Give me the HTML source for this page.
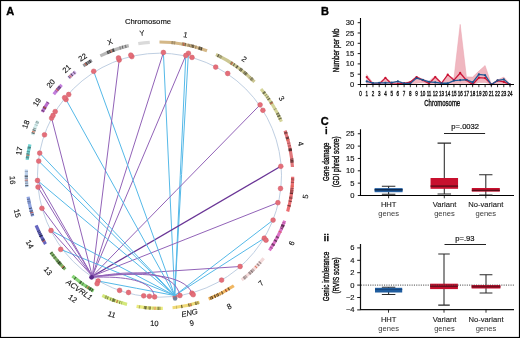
<!DOCTYPE html>
<html><head><meta charset="utf-8"><style>
html,body{margin:0;padding:0;background:#fff;}
svg{display:block;font-family:"Liberation Sans",sans-serif;}
.wrap{will-change:transform;width:520px;height:338px;overflow:hidden;}
.cl{font-size:7.6px;fill:#111;stroke:#111;stroke-width:0.12px;text-anchor:middle;dominant-baseline:central;}
.gl{font-size:7.7px;fill:#111;stroke:#111;stroke-width:0.12px;font-style:italic;text-anchor:middle;dominant-baseline:central;}
.tk{font-size:7.6px;fill:#111;stroke:#111;stroke-width:0.15px;}
.tkc{font-size:6.9px;fill:#111;stroke:#111;stroke-width:0.35px;}
.axc{font-size:9.4px;fill:#111;stroke:#111;stroke-width:0.4px;}
.axc2{font-size:9px;fill:#111;stroke:#111;stroke-width:0.4px;}
.tk2{font-size:7.6px;fill:#111;}
.ax{font-size:8px;fill:#111;}
.pv{font-size:7.6px;fill:#111;stroke:#111;stroke-width:0.2px;}
.gn{font-size:7.6px;fill:#2a2a2a;}
.gn1{fill:#1a1a1a;stroke:#1a1a1a;stroke-width:0.12px;}
.gn2{fill:#3a3a3a;}
.pl{font-size:11px;font-weight:bold;fill:#000;stroke:#000;stroke-width:0.35px;}
</style></head><body>
<div class="wrap"><svg width="520" height="338" viewBox="0 0 520 338">
<rect x="0" y="0" width="520" height="338" fill="#fff"/>
<path d="M159.50,40.40A134.8,134.8 0 0 1 207.59,49.27L206.45,52.26A131.6,131.6 0 0 0 159.50,43.60Z" fill="rgb(212, 184, 136)"/>
<path d="M171.70,40.95A134.8,134.8 0 0 1 172.73,41.05L172.41,44.24A131.6,131.6 0 0 0 171.41,44.14Z" fill="rgb(127, 110, 81)" opacity="0.8"/>
<path d="M201.69,47.17A134.8,134.8 0 0 1 202.62,47.48L201.60,50.51A131.6,131.6 0 0 0 200.69,50.21Z" fill="rgb(63, 55, 40)" opacity="0.8"/>
<path d="M187.98,43.44A134.8,134.8 0 0 1 189.28,43.73L188.58,46.85A131.6,131.6 0 0 0 187.30,46.57Z" fill="rgb(148, 128, 95)" opacity="0.8"/>
<path d="M172.79,41.06A134.8,134.8 0 0 1 173.56,41.14L173.23,44.32A131.6,131.6 0 0 0 172.47,44.24Z" fill="rgb(148, 128, 95)" opacity="0.8"/>
<path d="M185.26,42.88A134.8,134.8 0 0 1 186.28,43.09L185.64,46.22A131.6,131.6 0 0 0 184.65,46.03Z" fill="rgb(148, 128, 95)" opacity="0.8"/>
<path d="M189.76,43.84A134.8,134.8 0 0 1 190.45,44.00L189.72,47.12A131.6,131.6 0 0 0 189.04,46.96Z" fill="rgb(95, 82, 61)" opacity="0.8"/>
<path d="M199.61,46.51A134.8,134.8 0 0 1 200.58,46.81L199.61,49.86A131.6,131.6 0 0 0 198.66,49.56Z" fill="rgb(63, 55, 40)" opacity="0.8"/>
<path d="M191.22,44.19A134.8,134.8 0 0 1 191.84,44.34L191.07,47.44A131.6,131.6 0 0 0 190.47,47.30Z" fill="rgb(63, 55, 40)" opacity="0.8"/>
<path d="M174.76,41.27A134.8,134.8 0 0 1 175.37,41.34L174.99,44.51A131.6,131.6 0 0 0 174.39,44.45Z" fill="rgb(127, 110, 81)" opacity="0.8"/>
<path d="M182.15,42.32A134.8,134.8 0 0 1 183.32,42.52L182.75,45.67A131.6,131.6 0 0 0 181.62,45.47Z" fill="rgb(148, 128, 95)" opacity="0.8"/>
<path d="M192.75,44.57A134.8,134.8 0 0 1 194.06,44.90L193.24,48.00A131.6,131.6 0 0 0 191.96,47.67Z" fill="rgb(148, 128, 95)" opacity="0.8"/>
<path d="M193.50,44.76A134.8,134.8 0 0 1 194.53,45.03L193.70,48.12A131.6,131.6 0 0 0 192.70,47.86Z" fill="rgb(95, 82, 61)" opacity="0.8"/>
<path d="M200.24,46.70A134.8,134.8 0 0 1 200.88,46.91L199.90,49.95A131.6,131.6 0 0 0 199.28,49.76Z" fill="rgb(95, 82, 61)" opacity="0.8"/>
<path d="M183.33,42.52A134.8,134.8 0 0 1 184.12,42.67L183.53,45.81A131.6,131.6 0 0 0 182.76,45.67Z" fill="rgb(148, 128, 95)" opacity="0.8"/>
<path d="M195.61,45.33A134.8,134.8 0 0 1 196.86,45.68L195.97,48.75A131.6,131.6 0 0 0 194.76,48.41Z" fill="rgb(148, 128, 95)" opacity="0.8"/>
<path d="M183.83,42.61A134.8,134.8 0 0 1 184.72,42.78L184.12,45.92A131.6,131.6 0 0 0 183.25,45.76Z" fill="rgb(127, 110, 81)" opacity="0.8"/>
<path d="M185.01,42.84A134.8,134.8 0 0 1 185.92,43.01L185.29,46.15A131.6,131.6 0 0 0 184.41,45.98Z" fill="rgb(95, 82, 61)" opacity="0.8"/>
<path d="M201.11,46.98A134.8,134.8 0 0 1 202.20,47.34L201.18,50.38A131.6,131.6 0 0 0 200.12,50.03Z" fill="rgb(63, 55, 40)" opacity="0.8"/>
<path d="M198.92,46.29A134.8,134.8 0 0 1 200.26,46.71L199.29,49.76A131.6,131.6 0 0 0 197.99,49.35Z" fill="rgb(95, 82, 61)" opacity="0.8"/>
<path d="M192.31,44.45A134.8,134.8 0 0 1 193.14,44.66L192.34,47.76A131.6,131.6 0 0 0 191.53,47.56Z" fill="rgb(63, 55, 40)" opacity="0.8"/>
<path d="M193.02,44.63A134.8,134.8 0 0 1 193.76,44.83L192.95,47.92A131.6,131.6 0 0 0 192.23,47.73Z" fill="rgb(127, 110, 81)" opacity="0.8"/>
<path d="M174.01,41.18A134.8,134.8 0 0 1 174.65,41.25L174.29,44.43A131.6,131.6 0 0 0 173.66,44.36Z" fill="rgb(148, 128, 95)" opacity="0.8"/>
<path d="M183.56,42.56A134.8,134.8 0 0 1 184.48,42.74L183.89,45.88A131.6,131.6 0 0 0 182.99,45.71Z" fill="rgb(220,90,60)" opacity="0.8"/>
<path d="M216.65,53.11A134.8,134.8 0 0 1 255.61,80.68L253.33,82.92A131.6,131.6 0 0 0 215.29,56.01Z" fill="rgb(204, 199, 147)"/>
<path d="M221.32,55.41A134.8,134.8 0 0 1 222.42,55.99L220.93,58.82A131.6,131.6 0 0 0 219.85,58.25Z" fill="rgb(142, 139, 102)" opacity="0.8"/>
<path d="M250.75,75.98A134.8,134.8 0 0 1 251.19,76.39L249.01,78.73A131.6,131.6 0 0 0 248.58,78.33Z" fill="rgb(142, 139, 102)" opacity="0.8"/>
<path d="M246.23,72.01A134.8,134.8 0 0 1 247.23,72.85L245.14,75.28A131.6,131.6 0 0 0 244.17,74.46Z" fill="rgb(61, 59, 44)" opacity="0.8"/>
<path d="M240.61,67.53A134.8,134.8 0 0 1 241.58,68.27L239.63,70.81A131.6,131.6 0 0 0 238.68,70.09Z" fill="rgb(142, 139, 102)" opacity="0.8"/>
<path d="M244.69,70.73A134.8,134.8 0 0 1 245.36,71.28L243.32,73.74A131.6,131.6 0 0 0 242.67,73.21Z" fill="rgb(122, 119, 88)" opacity="0.8"/>
<path d="M236.98,64.89A134.8,134.8 0 0 1 238.13,65.71L236.26,68.31A131.6,131.6 0 0 0 235.14,67.51Z" fill="rgb(122, 119, 88)" opacity="0.8"/>
<path d="M218.36,53.93A134.8,134.8 0 0 1 218.97,54.23L217.56,57.10A131.6,131.6 0 0 0 216.97,56.81Z" fill="rgb(61, 59, 44)" opacity="0.8"/>
<path d="M252.13,77.27A134.8,134.8 0 0 1 253.14,78.23L250.91,80.53A131.6,131.6 0 0 0 249.93,79.59Z" fill="rgb(122, 119, 88)" opacity="0.8"/>
<path d="M241.00,67.83A134.8,134.8 0 0 1 241.57,68.26L239.62,70.80A131.6,131.6 0 0 0 239.07,70.38Z" fill="rgb(61, 59, 44)" opacity="0.8"/>
<path d="M253.31,78.40A134.8,134.8 0 0 1 253.93,79.00L251.69,81.29A131.6,131.6 0 0 0 251.08,80.69Z" fill="rgb(122, 119, 88)" opacity="0.8"/>
<path d="M252.47,77.59A134.8,134.8 0 0 1 253.42,78.51L251.19,80.80A131.6,131.6 0 0 0 250.26,79.90Z" fill="rgb(142, 139, 102)" opacity="0.8"/>
<path d="M232.31,61.75A134.8,134.8 0 0 1 233.40,62.46L231.65,65.14A131.6,131.6 0 0 0 230.58,64.45Z" fill="rgb(142, 139, 102)" opacity="0.8"/>
<path d="M242.03,68.62A134.8,134.8 0 0 1 242.88,69.28L240.90,71.79A131.6,131.6 0 0 0 240.07,71.15Z" fill="rgb(61, 59, 44)" opacity="0.8"/>
<path d="M241.08,67.89A134.8,134.8 0 0 1 242.16,68.72L240.20,71.25A131.6,131.6 0 0 0 239.15,70.44Z" fill="rgb(122, 119, 88)" opacity="0.8"/>
<path d="M234.37,63.10A134.8,134.8 0 0 1 235.35,63.76L233.55,66.41A131.6,131.6 0 0 0 232.59,65.76Z" fill="rgb(91, 89, 66)" opacity="0.8"/>
<path d="M251.89,77.04A134.8,134.8 0 0 1 252.58,77.70L250.37,80.01A131.6,131.6 0 0 0 249.70,79.37Z" fill="rgb(122, 119, 88)" opacity="0.8"/>
<path d="M237.69,65.40A134.8,134.8 0 0 1 238.54,66.00L236.66,68.60A131.6,131.6 0 0 0 235.84,68.00Z" fill="rgb(61, 59, 44)" opacity="0.8"/>
<path d="M246.85,72.53A134.8,134.8 0 0 1 247.92,73.45L245.82,75.86A131.6,131.6 0 0 0 244.78,74.97Z" fill="rgb(122, 119, 88)" opacity="0.8"/>
<path d="M218.68,54.09A134.8,134.8 0 0 1 219.67,54.57L218.24,57.44A131.6,131.6 0 0 0 217.28,56.96Z" fill="rgb(91, 89, 66)" opacity="0.8"/>
<path d="M220.26,54.87A134.8,134.8 0 0 1 221.25,55.37L219.78,58.22A131.6,131.6 0 0 0 218.82,57.73Z" fill="rgb(142, 139, 102)" opacity="0.8"/>
<path d="M231.40,61.18A134.8,134.8 0 0 1 232.54,61.90L230.80,64.59A131.6,131.6 0 0 0 229.70,63.88Z" fill="rgb(122, 119, 88)" opacity="0.8"/>
<path d="M245.46,71.36A134.8,134.8 0 0 1 245.92,71.75L243.87,74.20A131.6,131.6 0 0 0 243.42,73.83Z" fill="rgb(61, 59, 44)" opacity="0.8"/>
<path d="M232.34,61.77A134.8,134.8 0 0 1 233.13,62.29L231.38,64.97A131.6,131.6 0 0 0 230.61,64.47Z" fill="rgb(220,90,60)" opacity="0.8"/>
<path d="M262.25,87.94A134.8,134.8 0 0 1 282.90,120.94L279.97,122.23A131.6,131.6 0 0 0 259.81,90.01Z" fill="rgb(212, 212, 153)"/>
<path d="M281.45,117.77A134.8,134.8 0 0 1 281.71,118.32L278.81,119.67A131.6,131.6 0 0 0 278.56,119.13Z" fill="rgb(127, 127, 91)" opacity="0.8"/>
<path d="M268.50,95.88A134.8,134.8 0 0 1 269.06,96.67L266.46,98.53A131.6,131.6 0 0 0 265.91,97.77Z" fill="rgb(127, 127, 91)" opacity="0.8"/>
<path d="M266.98,93.85A134.8,134.8 0 0 1 267.43,94.44L264.87,96.36A131.6,131.6 0 0 0 264.43,95.78Z" fill="rgb(127, 127, 91)" opacity="0.8"/>
<path d="M279.66,114.10A134.8,134.8 0 0 1 280.02,114.82L277.16,116.25A131.6,131.6 0 0 0 276.80,115.55Z" fill="rgb(148, 148, 107)" opacity="0.8"/>
<path d="M265.23,91.58A134.8,134.8 0 0 1 266.01,92.57L263.48,94.53A131.6,131.6 0 0 0 262.72,93.57Z" fill="rgb(95, 95, 68)" opacity="0.8"/>
<path d="M269.78,97.68A134.8,134.8 0 0 1 270.22,98.32L267.60,100.14A131.6,131.6 0 0 0 267.16,99.52Z" fill="rgb(127, 127, 91)" opacity="0.8"/>
<path d="M268.30,95.61A134.8,134.8 0 0 1 268.73,96.21L266.14,98.09A131.6,131.6 0 0 0 265.71,97.50Z" fill="rgb(148, 148, 107)" opacity="0.8"/>
<path d="M276.36,108.02A134.8,134.8 0 0 1 276.70,108.60L273.91,110.18A131.6,131.6 0 0 0 273.59,109.61Z" fill="rgb(127, 127, 91)" opacity="0.8"/>
<path d="M281.25,117.34A134.8,134.8 0 0 1 281.74,118.38L278.84,119.72A131.6,131.6 0 0 0 278.36,118.71Z" fill="rgb(95, 95, 68)" opacity="0.8"/>
<path d="M272.23,101.29A134.8,134.8 0 0 1 272.93,102.37L270.24,104.10A131.6,131.6 0 0 0 269.55,103.04Z" fill="rgb(95, 95, 68)" opacity="0.8"/>
<path d="M264.69,90.90A134.8,134.8 0 0 1 265.44,91.84L262.92,93.82A131.6,131.6 0 0 0 262.19,92.90Z" fill="rgb(95, 95, 68)" opacity="0.8"/>
<path d="M280.28,115.35A134.8,134.8 0 0 1 280.71,116.21L277.83,117.61A131.6,131.6 0 0 0 277.42,116.77Z" fill="rgb(95, 95, 68)" opacity="0.8"/>
<path d="M278.76,112.37A134.8,134.8 0 0 1 279.05,112.91L276.21,114.39A131.6,131.6 0 0 0 275.93,113.86Z" fill="rgb(95, 95, 68)" opacity="0.8"/>
<path d="M269.74,97.63A134.8,134.8 0 0 1 270.47,98.68L267.84,100.49A131.6,131.6 0 0 0 267.13,99.47Z" fill="rgb(95, 95, 68)" opacity="0.8"/>
<path d="M279.96,114.71A134.8,134.8 0 0 1 280.35,115.48L277.48,116.90A131.6,131.6 0 0 0 277.10,116.14Z" fill="rgb(63, 63, 45)" opacity="0.8"/>
<path d="M279.02,112.87A134.8,134.8 0 0 1 279.42,113.64L276.58,115.10A131.6,131.6 0 0 0 276.18,114.35Z" fill="rgb(95, 95, 68)" opacity="0.8"/>
<path d="M271.97,100.89A134.8,134.8 0 0 1 272.52,101.74L269.84,103.48A131.6,131.6 0 0 0 269.30,102.65Z" fill="rgb(127, 127, 91)" opacity="0.8"/>
<path d="M272.79,102.16A134.8,134.8 0 0 1 273.39,103.09L270.69,104.80A131.6,131.6 0 0 0 270.10,103.89Z" fill="rgb(127, 127, 91)" opacity="0.8"/>
<path d="M272.67,101.96A134.8,134.8 0 0 1 273.18,102.76L270.48,104.48A131.6,131.6 0 0 0 269.98,103.70Z" fill="rgb(220,90,60)" opacity="0.8"/>
<path d="M286.53,130.09A134.8,134.8 0 0 1 294.05,166.92L290.85,167.12A131.6,131.6 0 0 0 283.51,131.16Z" fill="rgb(226, 119, 123)"/>
<path d="M290.89,145.07A134.8,134.8 0 0 1 291.09,145.97L287.97,146.67A131.6,131.6 0 0 0 287.77,145.79Z" fill="rgb(158, 83, 86)" opacity="0.8"/>
<path d="M288.59,136.39A134.8,134.8 0 0 1 288.76,136.95L285.69,137.86A131.6,131.6 0 0 0 285.53,137.31Z" fill="rgb(158, 83, 86)" opacity="0.8"/>
<path d="M291.84,149.56A134.8,134.8 0 0 1 292.10,150.93L288.95,151.51A131.6,131.6 0 0 0 288.70,150.17Z" fill="rgb(101, 53, 55)" opacity="0.8"/>
<path d="M287.23,132.12A134.8,134.8 0 0 1 287.54,133.04L284.50,134.04A131.6,131.6 0 0 0 284.20,133.14Z" fill="rgb(135, 71, 73)" opacity="0.8"/>
<path d="M291.75,149.09A134.8,134.8 0 0 1 292.00,150.38L288.85,150.97A131.6,131.6 0 0 0 288.61,149.71Z" fill="rgb(67, 35, 36)" opacity="0.8"/>
<path d="M293.42,159.82A134.8,134.8 0 0 1 293.57,161.20L290.39,161.53A131.6,131.6 0 0 0 290.24,160.18Z" fill="rgb(67, 35, 36)" opacity="0.8"/>
<path d="M293.27,158.55A134.8,134.8 0 0 1 293.34,159.17L290.17,159.55A131.6,131.6 0 0 0 290.09,158.95Z" fill="rgb(101, 53, 55)" opacity="0.8"/>
<path d="M293.57,161.18A134.8,134.8 0 0 1 293.70,162.50L290.51,162.80A131.6,131.6 0 0 0 290.39,161.51Z" fill="rgb(67, 35, 36)" opacity="0.8"/>
<path d="M286.98,131.38A134.8,134.8 0 0 1 287.36,132.52L284.33,133.53A131.6,131.6 0 0 0 283.95,132.42Z" fill="rgb(101, 53, 55)" opacity="0.8"/>
<path d="M291.52,147.97A134.8,134.8 0 0 1 291.68,148.74L288.54,149.36A131.6,131.6 0 0 0 288.39,148.61Z" fill="rgb(67, 35, 36)" opacity="0.8"/>
<path d="M291.66,148.64A134.8,134.8 0 0 1 291.84,149.55L288.70,150.16A131.6,131.6 0 0 0 288.52,149.27Z" fill="rgb(67, 35, 36)" opacity="0.8"/>
<path d="M290.27,142.49A134.8,134.8 0 0 1 290.46,143.26L287.35,144.02A131.6,131.6 0 0 0 287.17,143.26Z" fill="rgb(158, 83, 86)" opacity="0.8"/>
<path d="M293.27,158.59A134.8,134.8 0 0 1 293.35,159.22L290.17,159.60A131.6,131.6 0 0 0 290.10,158.99Z" fill="rgb(101, 53, 55)" opacity="0.8"/>
<path d="M288.94,137.55A134.8,134.8 0 0 1 289.22,138.54L286.14,139.41A131.6,131.6 0 0 0 285.86,138.45Z" fill="rgb(67, 35, 36)" opacity="0.8"/>
<path d="M288.65,136.58A134.8,134.8 0 0 1 289.00,137.77L285.93,138.66A131.6,131.6 0 0 0 285.58,137.50Z" fill="rgb(101, 53, 55)" opacity="0.8"/>
<path d="M293.33,159.02A134.8,134.8 0 0 1 293.40,159.61L290.22,159.98A131.6,131.6 0 0 0 290.15,159.41Z" fill="rgb(158, 83, 86)" opacity="0.8"/>
<path d="M287.45,132.77A134.8,134.8 0 0 1 287.70,133.54L284.66,134.53A131.6,131.6 0 0 0 284.41,133.78Z" fill="rgb(135, 71, 73)" opacity="0.8"/>
<path d="M289.38,139.12A134.8,134.8 0 0 1 289.63,140.03L286.54,140.86A131.6,131.6 0 0 0 286.30,139.98Z" fill="rgb(220,90,60)" opacity="0.8"/>
<path d="M294.29,176.76A134.8,134.8 0 0 1 289.19,211.98L286.11,211.10A131.6,131.6 0 0 0 291.09,176.72Z" fill="rgb(235, 110, 114)"/>
<path d="M292.38,197.87A134.8,134.8 0 0 1 292.21,198.87L289.06,198.30A131.6,131.6 0 0 0 289.23,197.33Z" fill="rgb(70, 33, 34)" opacity="0.8"/>
<path d="M293.11,193.05A134.8,134.8 0 0 1 292.95,194.26L289.78,193.81A131.6,131.6 0 0 0 289.94,192.62Z" fill="rgb(70, 33, 34)" opacity="0.8"/>
<path d="M290.86,205.45A134.8,134.8 0 0 1 290.58,206.65L287.47,205.90A131.6,131.6 0 0 0 287.74,204.74Z" fill="rgb(70, 33, 34)" opacity="0.8"/>
<path d="M294.13,181.95A134.8,134.8 0 0 1 294.10,182.60L290.90,182.42A131.6,131.6 0 0 0 290.93,181.79Z" fill="rgb(70, 33, 34)" opacity="0.8"/>
<path d="M290.82,205.65A134.8,134.8 0 0 1 290.67,206.29L287.55,205.55A131.6,131.6 0 0 0 287.70,204.93Z" fill="rgb(164, 77, 79)" opacity="0.8"/>
<path d="M293.68,188.12A134.8,134.8 0 0 1 293.60,188.96L290.41,188.63A131.6,131.6 0 0 0 290.49,187.81Z" fill="rgb(141, 66, 68)" opacity="0.8"/>
<path d="M293.44,190.37A134.8,134.8 0 0 1 293.34,191.27L290.16,190.89A131.6,131.6 0 0 0 290.26,190.01Z" fill="rgb(141, 66, 68)" opacity="0.8"/>
<path d="M293.52,189.63A134.8,134.8 0 0 1 293.44,190.38L290.26,190.01A131.6,131.6 0 0 0 290.34,189.29Z" fill="rgb(141, 66, 68)" opacity="0.8"/>
<path d="M293.26,191.87A134.8,134.8 0 0 1 293.18,192.56L290.00,192.15A131.6,131.6 0 0 0 290.09,191.48Z" fill="rgb(70, 33, 34)" opacity="0.8"/>
<path d="M291.79,201.09A134.8,134.8 0 0 1 291.62,201.97L288.48,201.33A131.6,131.6 0 0 0 288.65,200.47Z" fill="rgb(70, 33, 34)" opacity="0.8"/>
<path d="M292.62,196.40A134.8,134.8 0 0 1 292.52,197.01L289.37,196.49A131.6,131.6 0 0 0 289.46,195.89Z" fill="rgb(164, 77, 79)" opacity="0.8"/>
<path d="M292.47,197.32A134.8,134.8 0 0 1 292.27,198.53L289.11,197.98A131.6,131.6 0 0 0 289.32,196.79Z" fill="rgb(164, 77, 79)" opacity="0.8"/>
<path d="M292.24,198.66A134.8,134.8 0 0 1 292.13,199.27L288.98,198.70A131.6,131.6 0 0 0 289.09,198.10Z" fill="rgb(164, 77, 79)" opacity="0.8"/>
<path d="M294.24,179.38A134.8,134.8 0 0 1 294.20,180.48L291.00,180.35A131.6,131.6 0 0 0 291.04,179.28Z" fill="rgb(141, 66, 68)" opacity="0.8"/>
<path d="M293.33,191.38A134.8,134.8 0 0 1 293.18,192.53L290.01,192.11A131.6,131.6 0 0 0 290.15,190.99Z" fill="rgb(164, 77, 79)" opacity="0.8"/>
<path d="M294.26,178.39A134.8,134.8 0 0 1 294.24,179.16L291.04,179.06A131.6,131.6 0 0 0 291.06,178.31Z" fill="rgb(141, 66, 68)" opacity="0.8"/>
<path d="M293.88,185.83A134.8,134.8 0 0 1 293.80,186.76L290.61,186.49A131.6,131.6 0 0 0 290.69,185.57Z" fill="rgb(220,90,60)" opacity="0.8"/>
<path d="M286.16,221.34A134.8,134.8 0 0 1 270.77,251.29L268.13,249.48A131.6,131.6 0 0 0 283.15,220.25Z" fill="rgb(220, 114, 199)"/>
<path d="M276.67,241.85A134.8,134.8 0 0 1 276.35,242.41L273.58,240.81A131.6,131.6 0 0 0 273.89,240.26Z" fill="rgb(154, 79, 139)" opacity="0.8"/>
<path d="M283.21,228.75A134.8,134.8 0 0 1 282.93,229.39L280.00,228.10A131.6,131.6 0 0 0 280.27,227.48Z" fill="rgb(66, 34, 59)" opacity="0.8"/>
<path d="M272.86,248.15A134.8,134.8 0 0 1 272.37,248.90L269.69,247.15A131.6,131.6 0 0 0 270.16,246.42Z" fill="rgb(132, 68, 119)" opacity="0.8"/>
<path d="M284.53,225.58A134.8,134.8 0 0 1 284.09,226.66L281.14,225.43A131.6,131.6 0 0 0 281.56,224.39Z" fill="rgb(154, 79, 139)" opacity="0.8"/>
<path d="M277.23,240.86A134.8,134.8 0 0 1 276.64,241.90L273.86,240.32A131.6,131.6 0 0 0 274.43,239.30Z" fill="rgb(66, 34, 59)" opacity="0.8"/>
<path d="M274.98,244.74A134.8,134.8 0 0 1 274.37,245.74L271.64,244.07A131.6,131.6 0 0 0 272.24,243.09Z" fill="rgb(154, 79, 139)" opacity="0.8"/>
<path d="M284.28,226.19A134.8,134.8 0 0 1 283.82,227.32L280.87,226.08A131.6,131.6 0 0 0 281.32,224.98Z" fill="rgb(66, 34, 59)" opacity="0.8"/>
<path d="M279.26,237.08A134.8,134.8 0 0 1 278.77,238.02L275.94,236.52A131.6,131.6 0 0 0 276.41,235.61Z" fill="rgb(154, 79, 139)" opacity="0.8"/>
<path d="M283.74,227.50A134.8,134.8 0 0 1 283.51,228.05L280.56,226.80A131.6,131.6 0 0 0 280.79,226.25Z" fill="rgb(66, 34, 59)" opacity="0.8"/>
<path d="M285.53,223.03A134.8,134.8 0 0 1 285.29,223.67L282.30,222.52A131.6,131.6 0 0 0 282.54,221.89Z" fill="rgb(154, 79, 139)" opacity="0.8"/>
<path d="M274.63,245.31A134.8,134.8 0 0 1 273.92,246.48L271.20,244.78A131.6,131.6 0 0 0 271.90,243.64Z" fill="rgb(132, 68, 119)" opacity="0.8"/>
<path d="M275.04,244.63A134.8,134.8 0 0 1 274.72,245.16L271.99,243.50A131.6,131.6 0 0 0 272.30,242.99Z" fill="rgb(99, 51, 89)" opacity="0.8"/>
<path d="M284.71,225.14A134.8,134.8 0 0 1 284.26,226.26L281.30,225.04A131.6,131.6 0 0 0 281.74,223.95Z" fill="rgb(66, 34, 59)" opacity="0.8"/>
<path d="M278.99,237.60A134.8,134.8 0 0 1 278.38,238.76L275.56,237.25A131.6,131.6 0 0 0 276.15,236.12Z" fill="rgb(99, 51, 89)" opacity="0.8"/>
<path d="M274.61,245.34A134.8,134.8 0 0 1 274.20,246.01L271.48,244.33A131.6,131.6 0 0 0 271.88,243.68Z" fill="rgb(99, 51, 89)" opacity="0.8"/>
<path d="M281.74,232.02A134.8,134.8 0 0 1 281.34,232.88L278.45,231.51A131.6,131.6 0 0 0 278.84,230.68Z" fill="rgb(220,90,60)" opacity="0.8"/>
<path d="M264.92,259.21A134.8,134.8 0 0 1 242.69,281.27L240.71,278.75A131.6,131.6 0 0 0 262.42,257.21Z" fill="rgb(243, 218, 218)"/>
<path d="M251.76,273.48A134.8,134.8 0 0 1 251.06,274.14L248.88,271.79A131.6,131.6 0 0 0 249.57,271.15Z" fill="rgb(170, 152, 152)" opacity="0.8"/>
<path d="M259.74,265.33A134.8,134.8 0 0 1 259.01,266.13L256.65,263.97A131.6,131.6 0 0 0 257.36,263.19Z" fill="rgb(145, 130, 130)" opacity="0.8"/>
<path d="M253.78,271.55A134.8,134.8 0 0 1 252.78,272.51L250.57,270.20A131.6,131.6 0 0 0 251.54,269.26Z" fill="rgb(170, 152, 152)" opacity="0.8"/>
<path d="M254.93,270.40A134.8,134.8 0 0 1 253.95,271.38L251.70,269.10A131.6,131.6 0 0 0 252.67,268.14Z" fill="rgb(170, 152, 152)" opacity="0.8"/>
<path d="M247.68,277.16A134.8,134.8 0 0 1 246.62,278.06L244.56,275.62A131.6,131.6 0 0 0 245.58,274.74Z" fill="rgb(170, 152, 152)" opacity="0.8"/>
<path d="M250.90,274.28A134.8,134.8 0 0 1 250.01,275.10L247.86,272.72A131.6,131.6 0 0 0 248.73,271.93Z" fill="rgb(170, 152, 152)" opacity="0.8"/>
<path d="M261.53,263.29A134.8,134.8 0 0 1 260.93,263.98L258.52,261.88A131.6,131.6 0 0 0 259.11,261.20Z" fill="rgb(109, 98, 98)" opacity="0.8"/>
<path d="M261.44,263.40A134.8,134.8 0 0 1 260.78,264.15L258.38,262.04A131.6,131.6 0 0 0 259.02,261.31Z" fill="rgb(170, 152, 152)" opacity="0.8"/>
<path d="M245.93,278.65A134.8,134.8 0 0 1 245.15,279.29L243.12,276.82A131.6,131.6 0 0 0 243.88,276.19Z" fill="rgb(170, 152, 152)" opacity="0.8"/>
<path d="M253.13,272.18A134.8,134.8 0 0 1 252.19,273.08L249.99,270.75A131.6,131.6 0 0 0 250.90,269.88Z" fill="rgb(109, 98, 98)" opacity="0.8"/>
<path d="M259.35,265.76A134.8,134.8 0 0 1 258.84,266.31L256.49,264.15A131.6,131.6 0 0 0 256.98,263.61Z" fill="rgb(145, 130, 130)" opacity="0.8"/>
<path d="M245.63,278.89A134.8,134.8 0 0 1 244.64,279.71L242.61,277.23A131.6,131.6 0 0 0 243.59,276.43Z" fill="rgb(145, 130, 130)" opacity="0.8"/>
<path d="M251.34,273.87A134.8,134.8 0 0 1 250.39,274.75L248.24,272.38A131.6,131.6 0 0 0 249.16,271.53Z" fill="rgb(145, 130, 130)" opacity="0.8"/>
<path d="M246.46,278.20A134.8,134.8 0 0 1 245.82,278.74L243.77,276.28A131.6,131.6 0 0 0 244.40,275.75Z" fill="rgb(145, 130, 130)" opacity="0.8"/>
<path d="M257.49,267.77A134.8,134.8 0 0 1 256.84,268.45L254.53,266.24A131.6,131.6 0 0 0 255.16,265.58Z" fill="rgb(220,90,60)" opacity="0.8"/>
<path d="M234.73,287.06A134.8,134.8 0 0 1 209.23,300.49L208.05,297.52A131.6,131.6 0 0 0 232.94,284.40Z" fill="rgb(240, 182, 97)"/>
<path d="M223.22,293.99A134.8,134.8 0 0 1 222.42,294.41L220.93,291.58A131.6,131.6 0 0 0 221.71,291.17Z" fill="rgb(108, 81, 43)" opacity="0.8"/>
<path d="M221.04,295.13A134.8,134.8 0 0 1 220.34,295.49L218.90,292.63A131.6,131.6 0 0 0 219.58,292.29Z" fill="rgb(168, 127, 67)" opacity="0.8"/>
<path d="M216.13,297.53A134.8,134.8 0 0 1 215.48,297.82L214.16,294.91A131.6,131.6 0 0 0 214.78,294.63Z" fill="rgb(168, 127, 67)" opacity="0.8"/>
<path d="M217.90,296.69A134.8,134.8 0 0 1 217.21,297.02L215.84,294.13A131.6,131.6 0 0 0 216.51,293.81Z" fill="rgb(72, 54, 29)" opacity="0.8"/>
<path d="M223.30,293.95A134.8,134.8 0 0 1 222.25,294.50L220.77,291.67A131.6,131.6 0 0 0 221.78,291.13Z" fill="rgb(168, 127, 67)" opacity="0.8"/>
<path d="M216.19,297.50A134.8,134.8 0 0 1 214.99,298.05L213.67,295.13A131.6,131.6 0 0 0 214.84,294.60Z" fill="rgb(72, 54, 29)" opacity="0.8"/>
<path d="M223.45,293.87A134.8,134.8 0 0 1 222.76,294.23L221.26,291.41A131.6,131.6 0 0 0 221.93,291.05Z" fill="rgb(108, 81, 43)" opacity="0.8"/>
<path d="M219.38,295.97A134.8,134.8 0 0 1 218.28,296.51L216.88,293.63A131.6,131.6 0 0 0 217.96,293.10Z" fill="rgb(72, 54, 29)" opacity="0.8"/>
<path d="M211.91,299.39A134.8,134.8 0 0 1 210.72,299.89L209.50,296.93A131.6,131.6 0 0 0 210.67,296.45Z" fill="rgb(108, 81, 43)" opacity="0.8"/>
<path d="M213.55,298.69A134.8,134.8 0 0 1 212.43,299.17L211.17,296.23A131.6,131.6 0 0 0 212.27,295.76Z" fill="rgb(108, 81, 43)" opacity="0.8"/>
<path d="M230.06,290.06A134.8,134.8 0 0 1 229.07,290.66L227.41,287.92A131.6,131.6 0 0 0 228.39,287.33Z" fill="rgb(72, 54, 29)" opacity="0.8"/>
<path d="M213.12,298.87A134.8,134.8 0 0 1 212.39,299.19L211.14,296.25A131.6,131.6 0 0 0 211.85,295.94Z" fill="rgb(72, 54, 29)" opacity="0.8"/>
<path d="M227.09,291.83A134.8,134.8 0 0 1 226.27,292.30L224.69,289.52A131.6,131.6 0 0 0 225.48,289.06Z" fill="rgb(72, 54, 29)" opacity="0.8"/>
<path d="M227.51,291.59A134.8,134.8 0 0 1 226.69,292.06L225.10,289.29A131.6,131.6 0 0 0 225.89,288.83Z" fill="rgb(220,90,60)" opacity="0.8"/>
<path d="M199.96,303.79A134.8,134.8 0 0 1 172.71,309.35L172.40,306.17A131.6,131.6 0 0 0 199.00,300.73Z" fill="rgb(240, 218, 119)"/>
<path d="M196.38,304.86A134.8,134.8 0 0 1 195.60,305.08L194.75,301.99A131.6,131.6 0 0 0 195.50,301.78Z" fill="rgb(144, 130, 71)" opacity="0.8"/>
<path d="M198.47,304.25A134.8,134.8 0 0 1 197.54,304.52L196.64,301.45A131.6,131.6 0 0 0 197.54,301.18Z" fill="rgb(144, 130, 71)" opacity="0.8"/>
<path d="M199.14,304.04A134.8,134.8 0 0 1 198.31,304.29L197.39,301.23A131.6,131.6 0 0 0 198.19,300.98Z" fill="rgb(168, 152, 83)" opacity="0.8"/>
<path d="M189.81,306.55A134.8,134.8 0 0 1 189.17,306.69L188.47,303.57A131.6,131.6 0 0 0 189.09,303.43Z" fill="rgb(168, 152, 83)" opacity="0.8"/>
<path d="M189.72,306.57A134.8,134.8 0 0 1 188.70,306.80L188.01,303.67A131.6,131.6 0 0 0 189.00,303.45Z" fill="rgb(72, 65, 35)" opacity="0.8"/>
<path d="M177.11,308.84A134.8,134.8 0 0 1 176.46,308.93L176.06,305.75A131.6,131.6 0 0 0 176.69,305.67Z" fill="rgb(168, 152, 83)" opacity="0.8"/>
<path d="M196.76,304.75A134.8,134.8 0 0 1 195.49,305.11L194.64,302.02A131.6,131.6 0 0 0 195.87,301.67Z" fill="rgb(144, 130, 71)" opacity="0.8"/>
<path d="M197.16,304.63A134.8,134.8 0 0 1 195.85,305.01L194.99,301.92A131.6,131.6 0 0 0 196.27,301.56Z" fill="rgb(144, 130, 71)" opacity="0.8"/>
<path d="M182.42,308.04A134.8,134.8 0 0 1 181.54,308.19L181.02,305.03A131.6,131.6 0 0 0 181.88,304.88Z" fill="rgb(168, 152, 83)" opacity="0.8"/>
<path d="M192.15,305.99A134.8,134.8 0 0 1 191.03,306.26L190.28,303.15A131.6,131.6 0 0 0 191.37,302.88Z" fill="rgb(144, 130, 71)" opacity="0.8"/>
<path d="M196.91,304.70A134.8,134.8 0 0 1 195.60,305.08L194.74,301.99A131.6,131.6 0 0 0 196.03,301.63Z" fill="rgb(144, 130, 71)" opacity="0.8"/>
<path d="M182.63,308.00A134.8,134.8 0 0 1 181.62,308.17L181.09,305.02A131.6,131.6 0 0 0 182.08,304.85Z" fill="rgb(72, 65, 35)" opacity="0.8"/>
<path d="M191.10,306.24A134.8,134.8 0 0 1 190.18,306.46L189.45,303.35A131.6,131.6 0 0 0 190.35,303.13Z" fill="rgb(220,90,60)" opacity="0.8"/>
<path d="M162.89,309.96A134.8,134.8 0 0 1 136.27,307.98L136.82,304.83A131.6,131.6 0 0 0 162.81,306.76Z" fill="rgb(235, 235, 127)"/>
<path d="M145.94,309.32A134.8,134.8 0 0 1 144.94,309.21L145.28,306.03A131.6,131.6 0 0 0 146.26,306.13Z" fill="rgb(70, 70, 38)" opacity="0.8"/>
<path d="M144.76,309.19A134.8,134.8 0 0 1 143.62,309.06L143.99,305.88A131.6,131.6 0 0 0 145.11,306.01Z" fill="rgb(105, 105, 57)" opacity="0.8"/>
<path d="M146.55,309.38A134.8,134.8 0 0 1 145.36,309.26L145.70,306.07A131.6,131.6 0 0 0 146.85,306.19Z" fill="rgb(105, 105, 57)" opacity="0.8"/>
<path d="M158.07,309.99A134.8,134.8 0 0 1 156.75,309.97L156.82,306.77A131.6,131.6 0 0 0 158.11,306.79Z" fill="rgb(164, 164, 88)" opacity="0.8"/>
<path d="M159.47,310.00A134.8,134.8 0 0 1 158.11,309.99L158.14,306.79A131.6,131.6 0 0 0 159.47,306.80Z" fill="rgb(105, 105, 57)" opacity="0.8"/>
<path d="M139.80,308.55A134.8,134.8 0 0 1 138.69,308.38L139.19,305.22A131.6,131.6 0 0 0 140.27,305.39Z" fill="rgb(164, 164, 88)" opacity="0.8"/>
<path d="M148.74,309.57A134.8,134.8 0 0 1 147.62,309.48L147.90,306.29A131.6,131.6 0 0 0 149.00,306.38Z" fill="rgb(164, 164, 88)" opacity="0.8"/>
<path d="M150.57,309.70A134.8,134.8 0 0 1 149.35,309.62L149.59,306.43A131.6,131.6 0 0 0 150.79,306.51Z" fill="rgb(70, 70, 38)" opacity="0.8"/>
<path d="M159.54,310.00A134.8,134.8 0 0 1 158.81,310.00L158.82,306.80A131.6,131.6 0 0 0 159.54,306.80Z" fill="rgb(164, 164, 88)" opacity="0.8"/>
<path d="M153.39,309.86A134.8,134.8 0 0 1 152.58,309.82L152.75,306.63A131.6,131.6 0 0 0 153.53,306.66Z" fill="rgb(164, 164, 88)" opacity="0.8"/>
<path d="M160.85,309.99A134.8,134.8 0 0 1 160.15,310.00L160.14,306.80A131.6,131.6 0 0 0 160.82,306.79Z" fill="rgb(164, 164, 88)" opacity="0.8"/>
<path d="M149.81,309.65A134.8,134.8 0 0 1 149.02,309.59L149.27,306.40A131.6,131.6 0 0 0 150.04,306.46Z" fill="rgb(141, 141, 76)" opacity="0.8"/>
<path d="M155.43,309.94A134.8,134.8 0 0 1 154.49,309.91L154.61,306.71A131.6,131.6 0 0 0 155.52,306.74Z" fill="rgb(220,90,60)" opacity="0.8"/>
<path d="M126.64,305.93A134.8,134.8 0 0 1 101.62,296.94L102.99,294.05A131.6,131.6 0 0 0 127.42,302.83Z" fill="rgb(212, 232, 123)"/>
<path d="M105.99,298.93A134.8,134.8 0 0 1 104.74,298.38L106.04,295.45A131.6,131.6 0 0 0 107.26,295.99Z" fill="rgb(148, 162, 86)" opacity="0.8"/>
<path d="M113.52,301.92A134.8,134.8 0 0 1 112.38,301.49L113.50,298.50A131.6,131.6 0 0 0 114.62,298.91Z" fill="rgb(127, 139, 73)" opacity="0.8"/>
<path d="M114.61,302.31A134.8,134.8 0 0 1 113.29,301.83L114.39,298.83A131.6,131.6 0 0 0 115.68,299.29Z" fill="rgb(95, 104, 55)" opacity="0.8"/>
<path d="M119.56,303.95A134.8,134.8 0 0 1 118.92,303.75L119.88,300.69A131.6,131.6 0 0 0 120.50,300.89Z" fill="rgb(63, 69, 36)" opacity="0.8"/>
<path d="M113.05,301.74A134.8,134.8 0 0 1 111.80,301.28L112.93,298.28A131.6,131.6 0 0 0 114.15,298.74Z" fill="rgb(63, 69, 36)" opacity="0.8"/>
<path d="M121.60,304.56A134.8,134.8 0 0 1 120.89,304.35L121.80,301.29A131.6,131.6 0 0 0 122.50,301.49Z" fill="rgb(148, 162, 86)" opacity="0.8"/>
<path d="M110.43,300.75A134.8,134.8 0 0 1 109.58,300.42L110.77,297.44A131.6,131.6 0 0 0 111.59,297.77Z" fill="rgb(95, 104, 55)" opacity="0.8"/>
<path d="M112.12,301.40A134.8,134.8 0 0 1 111.46,301.15L112.60,298.16A131.6,131.6 0 0 0 113.25,298.40Z" fill="rgb(148, 162, 86)" opacity="0.8"/>
<path d="M107.58,299.60A134.8,134.8 0 0 1 106.62,299.20L107.88,296.25A131.6,131.6 0 0 0 108.81,296.65Z" fill="rgb(95, 104, 55)" opacity="0.8"/>
<path d="M112.69,301.61A134.8,134.8 0 0 1 111.98,301.35L113.11,298.35A131.6,131.6 0 0 0 113.80,298.61Z" fill="rgb(127, 139, 73)" opacity="0.8"/>
<path d="M117.32,303.23A134.8,134.8 0 0 1 116.53,302.97L117.55,299.94A131.6,131.6 0 0 0 118.32,300.19Z" fill="rgb(148, 162, 86)" opacity="0.8"/>
<path d="M105.63,298.77A134.8,134.8 0 0 1 104.38,298.22L105.69,295.30A131.6,131.6 0 0 0 106.91,295.84Z" fill="rgb(148, 162, 86)" opacity="0.8"/>
<path d="M116.92,303.10A134.8,134.8 0 0 1 116.03,302.80L117.06,299.77A131.6,131.6 0 0 0 117.93,300.06Z" fill="rgb(220,90,60)" opacity="0.8"/>
<path d="M92.89,292.39A134.8,134.8 0 0 1 71.35,277.18L73.44,274.76A131.6,131.6 0 0 0 94.47,289.61Z" fill="rgb(136, 212, 119)"/>
<path d="M86.00,288.20A134.8,134.8 0 0 1 84.89,287.47L86.66,284.80A131.6,131.6 0 0 0 87.74,285.52Z" fill="rgb(81, 127, 71)" opacity="0.8"/>
<path d="M79.68,283.83A134.8,134.8 0 0 1 78.56,282.99L80.48,280.44A131.6,131.6 0 0 0 81.57,281.25Z" fill="rgb(81, 127, 71)" opacity="0.8"/>
<path d="M74.54,279.86A134.8,134.8 0 0 1 73.66,279.13L75.70,276.67A131.6,131.6 0 0 0 76.56,277.37Z" fill="rgb(40, 63, 35)" opacity="0.8"/>
<path d="M80.23,284.23A134.8,134.8 0 0 1 79.27,283.53L81.18,280.95A131.6,131.6 0 0 0 82.11,281.64Z" fill="rgb(40, 63, 35)" opacity="0.8"/>
<path d="M90.24,290.85A134.8,134.8 0 0 1 89.21,290.22L90.88,287.49A131.6,131.6 0 0 0 91.89,288.10Z" fill="rgb(61, 95, 53)" opacity="0.8"/>
<path d="M82.33,285.72A134.8,134.8 0 0 1 81.49,285.14L83.34,282.53A131.6,131.6 0 0 0 84.16,283.10Z" fill="rgb(95, 148, 83)" opacity="0.8"/>
<path d="M88.36,289.70A134.8,134.8 0 0 1 87.31,289.04L89.03,286.34A131.6,131.6 0 0 0 90.05,286.98Z" fill="rgb(61, 95, 53)" opacity="0.8"/>
<path d="M91.63,291.66A134.8,134.8 0 0 1 90.76,291.16L92.39,288.41A131.6,131.6 0 0 0 93.24,288.90Z" fill="rgb(95, 148, 83)" opacity="0.8"/>
<path d="M89.99,290.70A134.8,134.8 0 0 1 89.29,290.27L90.96,287.54A131.6,131.6 0 0 0 91.64,287.96Z" fill="rgb(61, 95, 53)" opacity="0.8"/>
<path d="M89.67,290.50A134.8,134.8 0 0 1 88.61,289.86L90.30,287.13A131.6,131.6 0 0 0 91.33,287.77Z" fill="rgb(40, 63, 35)" opacity="0.8"/>
<path d="M91.91,291.83A134.8,134.8 0 0 1 90.96,291.28L92.59,288.52A131.6,131.6 0 0 0 93.51,289.06Z" fill="rgb(40, 63, 35)" opacity="0.8"/>
<path d="M82.02,285.51A134.8,134.8 0 0 1 81.53,285.16L83.38,282.55A131.6,131.6 0 0 0 83.86,282.89Z" fill="rgb(81, 127, 71)" opacity="0.8"/>
<path d="M87.24,289.00A134.8,134.8 0 0 1 86.45,288.49L88.18,285.80A131.6,131.6 0 0 0 88.95,286.29Z" fill="rgb(220,90,60)" opacity="0.8"/>
<path d="M64.15,270.48A134.8,134.8 0 0 1 49.51,253.14L52.12,251.29A131.6,131.6 0 0 0 66.41,268.22Z" fill="rgb(127, 174, 102)"/>
<path d="M59.32,265.40A134.8,134.8 0 0 1 58.45,264.42L60.85,262.30A131.6,131.6 0 0 0 61.70,263.25Z" fill="rgb(57, 78, 45)" opacity="0.8"/>
<path d="M62.78,269.09A134.8,134.8 0 0 1 61.89,268.17L64.21,265.96A131.6,131.6 0 0 0 65.07,266.86Z" fill="rgb(38, 52, 30)" opacity="0.8"/>
<path d="M53.98,259.09A134.8,134.8 0 0 1 53.24,258.15L55.76,256.18A131.6,131.6 0 0 0 56.49,257.10Z" fill="rgb(76, 104, 61)" opacity="0.8"/>
<path d="M50.29,254.22A134.8,134.8 0 0 1 49.85,253.60L52.45,251.74A131.6,131.6 0 0 0 52.88,252.34Z" fill="rgb(38, 52, 30)" opacity="0.8"/>
<path d="M52.04,256.59A134.8,134.8 0 0 1 51.47,255.83L54.04,253.91A131.6,131.6 0 0 0 54.59,254.65Z" fill="rgb(57, 78, 45)" opacity="0.8"/>
<path d="M56.89,262.61A134.8,134.8 0 0 1 56.45,262.10L58.89,260.03A131.6,131.6 0 0 0 59.32,260.54Z" fill="rgb(38, 52, 30)" opacity="0.8"/>
<path d="M58.13,264.05A134.8,134.8 0 0 1 57.29,263.08L59.71,261.00A131.6,131.6 0 0 0 60.54,261.94Z" fill="rgb(57, 78, 45)" opacity="0.8"/>
<path d="M58.26,264.21A134.8,134.8 0 0 1 57.62,263.47L60.04,261.37A131.6,131.6 0 0 0 60.67,262.09Z" fill="rgb(38, 52, 30)" opacity="0.8"/>
<path d="M56.26,261.88A134.8,134.8 0 0 1 55.66,261.16L58.13,259.12A131.6,131.6 0 0 0 58.71,259.82Z" fill="rgb(88, 121, 71)" opacity="0.8"/>
<path d="M59.47,265.56A134.8,134.8 0 0 1 58.82,264.84L61.21,262.71A131.6,131.6 0 0 0 61.84,263.41Z" fill="rgb(88, 121, 71)" opacity="0.8"/>
<path d="M62.01,268.29A134.8,134.8 0 0 1 61.36,267.61L63.69,265.42A131.6,131.6 0 0 0 64.32,266.08Z" fill="rgb(220,90,60)" opacity="0.8"/>
<path d="M44.12,244.90A134.8,134.8 0 0 1 34.63,225.99L37.60,224.79A131.6,131.6 0 0 0 46.86,243.25Z" fill="rgb(102, 102, 191)"/>
<path d="M39.77,237.13A134.8,134.8 0 0 1 39.33,236.28L42.18,234.83A131.6,131.6 0 0 0 42.61,235.66Z" fill="rgb(30, 30, 57)" opacity="0.8"/>
<path d="M37.34,232.18A134.8,134.8 0 0 1 36.96,231.37L39.87,230.04A131.6,131.6 0 0 0 40.24,230.83Z" fill="rgb(61, 61, 114)" opacity="0.8"/>
<path d="M39.67,236.94A134.8,134.8 0 0 1 39.26,236.15L42.12,234.70A131.6,131.6 0 0 0 42.51,235.47Z" fill="rgb(71, 71, 133)" opacity="0.8"/>
<path d="M41.66,240.65A134.8,134.8 0 0 1 41.37,240.13L44.17,238.59A131.6,131.6 0 0 0 44.45,239.10Z" fill="rgb(45, 45, 85)" opacity="0.8"/>
<path d="M41.40,240.19A134.8,134.8 0 0 1 40.97,239.41L43.79,237.88A131.6,131.6 0 0 0 44.20,238.65Z" fill="rgb(71, 71, 133)" opacity="0.8"/>
<path d="M38.87,235.37A134.8,134.8 0 0 1 38.55,234.72L41.42,233.31A131.6,131.6 0 0 0 41.74,233.94Z" fill="rgb(30, 30, 57)" opacity="0.8"/>
<path d="M42.24,241.70A134.8,134.8 0 0 1 41.79,240.89L44.59,239.34A131.6,131.6 0 0 0 45.03,240.12Z" fill="rgb(45, 45, 85)" opacity="0.8"/>
<path d="M37.99,233.56A134.8,134.8 0 0 1 37.68,232.92L40.58,231.55A131.6,131.6 0 0 0 40.87,232.17Z" fill="rgb(45, 45, 85)" opacity="0.8"/>
<path d="M39.68,236.96A134.8,134.8 0 0 1 39.34,236.30L42.19,234.85A131.6,131.6 0 0 0 42.52,235.49Z" fill="rgb(30, 30, 57)" opacity="0.8"/>
<path d="M42.60,242.32A134.8,134.8 0 0 1 42.13,241.50L44.92,239.92A131.6,131.6 0 0 0 45.37,240.72Z" fill="rgb(220,90,60)" opacity="0.8"/>
<path d="M31.26,216.75A134.8,134.8 0 0 1 26.49,197.11L29.65,196.59A131.6,131.6 0 0 0 34.31,215.76Z" fill="rgb(144, 165, 225)"/>
<path d="M29.05,209.18A134.8,134.8 0 0 1 28.84,208.35L31.94,207.57A131.6,131.6 0 0 0 32.15,208.37Z" fill="rgb(43, 49, 67)" opacity="0.8"/>
<path d="M27.73,203.63A134.8,134.8 0 0 1 27.60,203.02L30.73,202.36A131.6,131.6 0 0 0 30.86,202.96Z" fill="rgb(100, 115, 157)" opacity="0.8"/>
<path d="M30.95,215.75A134.8,134.8 0 0 1 30.65,214.81L33.71,213.86A131.6,131.6 0 0 0 34.00,214.79Z" fill="rgb(64, 74, 101)" opacity="0.8"/>
<path d="M29.85,212.11A134.8,134.8 0 0 1 29.60,211.23L32.69,210.38A131.6,131.6 0 0 0 32.93,211.23Z" fill="rgb(64, 74, 101)" opacity="0.8"/>
<path d="M30.28,213.57A134.8,134.8 0 0 1 29.97,212.51L33.04,211.63A131.6,131.6 0 0 0 33.34,212.66Z" fill="rgb(86, 99, 135)" opacity="0.8"/>
<path d="M27.01,200.04A134.8,134.8 0 0 1 26.81,198.98L29.96,198.41A131.6,131.6 0 0 0 30.15,199.45Z" fill="rgb(86, 99, 135)" opacity="0.8"/>
<path d="M29.73,211.66A134.8,134.8 0 0 1 29.40,210.47L32.48,209.63A131.6,131.6 0 0 0 32.81,210.80Z" fill="rgb(100, 115, 157)" opacity="0.8"/>
<path d="M27.48,202.44A134.8,134.8 0 0 1 27.21,201.08L30.35,200.47A131.6,131.6 0 0 0 30.61,201.79Z" fill="rgb(100, 115, 157)" opacity="0.8"/>
<path d="M29.79,211.91A134.8,134.8 0 0 1 29.58,211.13L32.66,210.28A131.6,131.6 0 0 0 32.87,211.03Z" fill="rgb(86, 99, 135)" opacity="0.8"/>
<path d="M30.29,213.62A134.8,134.8 0 0 1 30.02,212.71L33.10,211.82A131.6,131.6 0 0 0 33.36,212.70Z" fill="rgb(220,90,60)" opacity="0.8"/>
<path d="M25.25,187.34A134.8,134.8 0 0 1 24.82,169.54L28.02,169.67A131.6,131.6 0 0 0 28.44,187.06Z" fill="rgb(187, 208, 235)"/>
<path d="M24.71,176.77A134.8,134.8 0 0 1 24.70,175.90L27.90,175.88A131.6,131.6 0 0 0 27.91,176.73Z" fill="rgb(56, 62, 70)" opacity="0.8"/>
<path d="M25.15,186.18A134.8,134.8 0 0 1 25.07,185.24L28.27,185.00A131.6,131.6 0 0 0 28.34,185.92Z" fill="rgb(56, 62, 70)" opacity="0.8"/>
<path d="M24.72,177.23A134.8,134.8 0 0 1 24.71,176.64L27.91,176.61A131.6,131.6 0 0 0 27.91,177.18Z" fill="rgb(56, 62, 70)" opacity="0.8"/>
<path d="M24.70,175.79A134.8,134.8 0 0 1 24.70,175.18L27.90,175.18A131.6,131.6 0 0 0 27.90,175.77Z" fill="rgb(56, 62, 70)" opacity="0.8"/>
<path d="M24.76,179.12A134.8,134.8 0 0 1 24.74,178.37L27.94,178.30A131.6,131.6 0 0 0 27.96,179.03Z" fill="rgb(112, 124, 141)" opacity="0.8"/>
<path d="M24.99,184.05A134.8,134.8 0 0 1 24.91,182.66L28.10,182.48A131.6,131.6 0 0 0 28.18,183.84Z" fill="rgb(130, 145, 164)" opacity="0.8"/>
<path d="M24.85,181.56A134.8,134.8 0 0 1 24.81,180.58L28.00,180.45A131.6,131.6 0 0 0 28.05,181.41Z" fill="rgb(112, 124, 141)" opacity="0.8"/>
<path d="M24.75,171.54A134.8,134.8 0 0 1 24.77,170.93L27.97,171.03A131.6,131.6 0 0 0 27.95,171.63Z" fill="rgb(112, 124, 141)" opacity="0.8"/>
<path d="M24.81,180.61A134.8,134.8 0 0 1 24.77,179.67L27.97,179.56A131.6,131.6 0 0 0 28.01,180.48Z" fill="rgb(220,90,60)" opacity="0.8"/>
<path d="M25.59,159.73A134.8,134.8 0 0 1 28.37,143.96L31.48,144.70A131.6,131.6 0 0 0 28.77,160.09Z" fill="rgb(114, 208, 208)"/>
<path d="M27.33,148.70A134.8,134.8 0 0 1 27.55,147.62L30.68,148.27A131.6,131.6 0 0 0 30.47,149.33Z" fill="rgb(79, 145, 145)" opacity="0.8"/>
<path d="M25.77,158.22A134.8,134.8 0 0 1 25.88,157.40L29.05,157.82A131.6,131.6 0 0 0 28.95,158.62Z" fill="rgb(79, 145, 145)" opacity="0.8"/>
<path d="M25.82,157.86A134.8,134.8 0 0 1 25.94,156.96L29.11,157.40A131.6,131.6 0 0 0 28.99,158.28Z" fill="rgb(68, 124, 124)" opacity="0.8"/>
<path d="M26.73,151.88A134.8,134.8 0 0 1 26.95,150.67L30.10,151.25A131.6,131.6 0 0 0 29.88,152.43Z" fill="rgb(79, 145, 145)" opacity="0.8"/>
<path d="M25.92,157.13A134.8,134.8 0 0 1 26.08,155.95L29.25,156.40A131.6,131.6 0 0 0 29.09,157.56Z" fill="rgb(79, 145, 145)" opacity="0.8"/>
<path d="M27.59,147.46A134.8,134.8 0 0 1 27.80,146.44L30.93,147.12A131.6,131.6 0 0 0 30.72,148.12Z" fill="rgb(51, 93, 93)" opacity="0.8"/>
<path d="M26.34,154.26A134.8,134.8 0 0 1 26.48,153.34L29.64,153.86A131.6,131.6 0 0 0 29.50,154.75Z" fill="rgb(51, 93, 93)" opacity="0.8"/>
<path d="M26.15,155.50A134.8,134.8 0 0 1 26.29,154.57L29.45,155.06A131.6,131.6 0 0 0 29.31,155.97Z" fill="rgb(220,90,60)" opacity="0.8"/>
<path d="M31.00,134.48A134.8,134.8 0 0 1 36.48,120.09L39.40,121.40A131.6,131.6 0 0 0 34.05,135.44Z" fill="rgb(212, 238, 238)"/>
<path d="M33.05,128.49A134.8,134.8 0 0 1 33.46,127.39L36.45,128.53A131.6,131.6 0 0 0 36.05,129.60Z" fill="rgb(127, 142, 142)" opacity="0.8"/>
<path d="M32.29,130.61A134.8,134.8 0 0 1 32.53,129.93L35.54,131.00A131.6,131.6 0 0 0 35.31,131.67Z" fill="rgb(148, 166, 166)" opacity="0.8"/>
<path d="M35.82,121.59A134.8,134.8 0 0 1 36.07,121.02L39.00,122.31A131.6,131.6 0 0 0 38.75,122.87Z" fill="rgb(95, 107, 107)" opacity="0.8"/>
<path d="M34.51,124.71A134.8,134.8 0 0 1 34.74,124.15L37.70,125.36A131.6,131.6 0 0 0 37.48,125.91Z" fill="rgb(148, 166, 166)" opacity="0.8"/>
<path d="M31.41,133.20A134.8,134.8 0 0 1 31.78,132.10L34.81,133.12A131.6,131.6 0 0 0 34.45,134.20Z" fill="rgb(63, 71, 71)" opacity="0.8"/>
<path d="M32.47,130.11A134.8,134.8 0 0 1 32.83,129.09L35.84,130.18A131.6,131.6 0 0 0 35.48,131.18Z" fill="rgb(63, 71, 71)" opacity="0.8"/>
<path d="M35.29,122.83A134.8,134.8 0 0 1 35.80,121.63L38.74,122.90A131.6,131.6 0 0 0 38.24,124.08Z" fill="rgb(148, 166, 166)" opacity="0.8"/>
<path d="M31.91,131.70A134.8,134.8 0 0 1 32.22,130.81L35.24,131.86A131.6,131.6 0 0 0 34.94,132.73Z" fill="rgb(220,90,60)" opacity="0.8"/>
<path d="M40.83,111.26A134.8,134.8 0 0 1 46.80,101.24L49.47,103.00A131.6,131.6 0 0 0 43.65,112.78Z" fill="rgb(187, 110, 204)"/>
<path d="M43.19,107.06A134.8,134.8 0 0 1 43.86,105.94L46.60,107.58A131.6,131.6 0 0 0 45.95,108.68Z" fill="rgb(112, 66, 122)" opacity="0.8"/>
<path d="M46.37,101.91A134.8,134.8 0 0 1 46.69,101.41L49.37,103.17A131.6,131.6 0 0 0 49.05,103.65Z" fill="rgb(84, 49, 91)" opacity="0.8"/>
<path d="M42.81,107.71A134.8,134.8 0 0 1 43.51,106.53L46.26,108.16A131.6,131.6 0 0 0 45.58,109.31Z" fill="rgb(56, 33, 61)" opacity="0.8"/>
<path d="M42.62,108.05A134.8,134.8 0 0 1 43.04,107.32L45.80,108.93A131.6,131.6 0 0 0 45.39,109.64Z" fill="rgb(130, 77, 142)" opacity="0.8"/>
<path d="M41.20,110.58A134.8,134.8 0 0 1 41.74,109.60L44.54,111.16A131.6,131.6 0 0 0 44.01,112.11Z" fill="rgb(84, 49, 91)" opacity="0.8"/>
<path d="M43.16,107.11A134.8,134.8 0 0 1 43.64,106.30L46.39,107.94A131.6,131.6 0 0 0 45.92,108.73Z" fill="rgb(220,90,60)" opacity="0.8"/>
<path d="M52.50,93.22A134.8,134.8 0 0 1 60.50,83.71L62.85,85.88A131.6,131.6 0 0 0 55.04,95.16Z" fill="rgb(195, 127, 221)"/>
<path d="M57.33,87.26A134.8,134.8 0 0 1 58.25,86.21L60.65,88.32A131.6,131.6 0 0 0 59.76,89.35Z" fill="rgb(87, 57, 99)" opacity="0.8"/>
<path d="M56.83,87.85A134.8,134.8 0 0 1 57.22,87.40L59.65,89.48A131.6,131.6 0 0 0 59.27,89.93Z" fill="rgb(87, 57, 99)" opacity="0.8"/>
<path d="M54.60,90.54A134.8,134.8 0 0 1 55.08,89.95L57.56,91.97A131.6,131.6 0 0 0 57.09,92.55Z" fill="rgb(136, 88, 154)" opacity="0.8"/>
<path d="M56.00,88.84A134.8,134.8 0 0 1 56.86,87.82L59.29,89.89A131.6,131.6 0 0 0 58.45,90.89Z" fill="rgb(117, 76, 132)" opacity="0.8"/>
<path d="M58.21,86.26A134.8,134.8 0 0 1 58.89,85.49L61.28,87.62A131.6,131.6 0 0 0 60.61,88.37Z" fill="rgb(87, 57, 99)" opacity="0.8"/>
<path d="M55.58,89.34A134.8,134.8 0 0 1 56.18,88.62L58.64,90.67A131.6,131.6 0 0 0 58.05,91.38Z" fill="rgb(220,90,60)" opacity="0.8"/>
<path d="M67.44,76.73A134.8,134.8 0 0 1 74.60,70.50L76.62,72.98A131.6,131.6 0 0 0 69.63,79.07Z" fill="rgb(204, 170, 229)"/>
<path d="M70.34,74.10A134.8,134.8 0 0 1 71.17,73.37L73.26,75.79A131.6,131.6 0 0 0 72.46,76.50Z" fill="rgb(61, 51, 68)" opacity="0.8"/>
<path d="M72.87,71.92A134.8,134.8 0 0 1 73.39,71.49L75.44,73.95A131.6,131.6 0 0 0 74.93,74.37Z" fill="rgb(61, 51, 68)" opacity="0.8"/>
<path d="M73.10,71.73A134.8,134.8 0 0 1 73.61,71.30L75.65,73.77A131.6,131.6 0 0 0 75.15,74.19Z" fill="rgb(122, 102, 137)" opacity="0.8"/>
<path d="M67.91,76.29A134.8,134.8 0 0 1 68.63,75.63L70.79,78.00A131.6,131.6 0 0 0 70.09,78.64Z" fill="rgb(91, 76, 103)" opacity="0.8"/>
<path d="M69.01,75.29A134.8,134.8 0 0 1 69.71,74.66L71.84,77.04A131.6,131.6 0 0 0 71.16,77.66Z" fill="rgb(220,90,60)" opacity="0.8"/>
<path d="M82.47,64.58A134.8,134.8 0 0 1 90.98,59.11L92.61,61.87A131.6,131.6 0 0 0 84.30,67.21Z" fill="rgb(148, 148, 153)"/>
<path d="M88.75,60.46A134.8,134.8 0 0 1 89.73,59.86L91.39,62.60A131.6,131.6 0 0 0 90.43,63.18Z" fill="rgb(44, 44, 45)" opacity="0.8"/>
<path d="M87.27,61.38A134.8,134.8 0 0 1 88.30,60.74L89.99,63.45A131.6,131.6 0 0 0 88.99,64.08Z" fill="rgb(88, 88, 91)" opacity="0.8"/>
<path d="M85.44,62.57A134.8,134.8 0 0 1 86.39,61.95L88.12,64.64A131.6,131.6 0 0 0 87.20,65.24Z" fill="rgb(44, 44, 45)" opacity="0.8"/>
<path d="M84.48,63.20A134.8,134.8 0 0 1 85.62,62.45L87.37,65.13A131.6,131.6 0 0 0 86.26,65.86Z" fill="rgb(103, 103, 107)" opacity="0.8"/>
<path d="M84.47,63.21A134.8,134.8 0 0 1 85.26,62.69L87.02,65.36A131.6,131.6 0 0 0 86.25,65.87Z" fill="rgb(220,90,60)" opacity="0.8"/>
<path d="M99.63,54.42A134.8,134.8 0 0 1 128.38,44.04L129.12,47.15A131.6,131.6 0 0 0 101.05,57.29Z" fill="rgb(184, 184, 184)"/>
<path d="M121.79,45.78A134.8,134.8 0 0 1 122.51,45.57L123.39,48.65A131.6,131.6 0 0 0 122.68,48.86Z" fill="rgb(55, 55, 55)" opacity="0.8"/>
<path d="M112.21,48.97A134.8,134.8 0 0 1 113.32,48.56L114.42,51.56A131.6,131.6 0 0 0 113.33,51.96Z" fill="rgb(55, 55, 55)" opacity="0.8"/>
<path d="M109.19,50.14A134.8,134.8 0 0 1 109.89,49.86L111.06,52.84A131.6,131.6 0 0 0 110.39,53.11Z" fill="rgb(55, 55, 55)" opacity="0.8"/>
<path d="M124.56,45.01A134.8,134.8 0 0 1 125.67,44.71L126.48,47.81A131.6,131.6 0 0 0 125.39,48.10Z" fill="rgb(110, 110, 110)" opacity="0.8"/>
<path d="M111.15,49.37A134.8,134.8 0 0 1 112.20,48.97L113.32,51.97A131.6,131.6 0 0 0 112.30,52.36Z" fill="rgb(82, 82, 82)" opacity="0.8"/>
<path d="M106.56,51.23A134.8,134.8 0 0 1 107.74,50.73L108.97,53.69A131.6,131.6 0 0 0 107.82,54.17Z" fill="rgb(55, 55, 55)" opacity="0.8"/>
<path d="M108.94,50.24A134.8,134.8 0 0 1 109.81,49.89L110.99,52.87A131.6,131.6 0 0 0 110.14,53.21Z" fill="rgb(55, 55, 55)" opacity="0.8"/>
<path d="M106.78,51.14A134.8,134.8 0 0 1 107.57,50.80L108.80,53.76A131.6,131.6 0 0 0 108.03,54.08Z" fill="rgb(82, 82, 82)" opacity="0.8"/>
<path d="M119.14,46.58A134.8,134.8 0 0 1 120.39,46.20L121.32,49.26A131.6,131.6 0 0 0 120.10,49.64Z" fill="rgb(128, 128, 128)" opacity="0.8"/>
<path d="M124.82,44.94A134.8,134.8 0 0 1 125.81,44.68L126.61,47.78A131.6,131.6 0 0 0 125.64,48.03Z" fill="rgb(128, 128, 128)" opacity="0.8"/>
<path d="M109.88,49.87A134.8,134.8 0 0 1 110.57,49.59L111.73,52.57A131.6,131.6 0 0 0 111.06,52.84Z" fill="rgb(128, 128, 128)" opacity="0.8"/>
<path d="M112.72,48.78A134.8,134.8 0 0 1 113.87,48.36L114.95,51.37A131.6,131.6 0 0 0 113.83,51.78Z" fill="rgb(128, 128, 128)" opacity="0.8"/>
<path d="M112.40,48.90A134.8,134.8 0 0 1 113.41,48.53L114.50,51.53A131.6,131.6 0 0 0 113.52,51.89Z" fill="rgb(55, 55, 55)" opacity="0.8"/>
<path d="M107.62,50.78A134.8,134.8 0 0 1 108.87,50.27L110.08,53.23A131.6,131.6 0 0 0 108.85,53.74Z" fill="rgb(82, 82, 82)" opacity="0.8"/>
<path d="M110.13,49.77A134.8,134.8 0 0 1 111.01,49.43L112.16,52.41A131.6,131.6 0 0 0 111.30,52.74Z" fill="rgb(220,90,60)" opacity="0.8"/>
<path d="M138.03,42.12A134.8,134.8 0 0 1 149.66,40.76L149.90,43.95A131.6,131.6 0 0 0 138.54,45.28Z" fill="rgb(218, 218, 218)"/>
<circle cx="159.5" cy="175.2" r="122.0" fill="none" stroke="#bfcfe2" stroke-width="1"/>
<circle cx="175.0" cy="296.9" r="2.5" fill="#e4686f"/>
<path d="M163.40,52.50Q127.86,164.35 92.33,276.20" fill="none" stroke="#9263b8" stroke-width="1.0"/>
<path d="M163.40,52.50Q169.06,174.02 174.71,295.54" fill="none" stroke="#55b9e8" stroke-width="1.0"/>
<path d="M188.40,53.30Q181.56,174.42 174.71,295.54" fill="none" stroke="#55b9e8" stroke-width="1.0"/>
<path d="M185.80,55.50Q139.06,165.85 92.33,276.20" fill="none" stroke="#9263b8" stroke-width="1.0"/>
<path d="M185.80,55.50Q180.26,175.52 174.71,295.54" fill="none" stroke="#55b9e8" stroke-width="1.0"/>
<path d="M260.10,104.80Q176.21,190.50 92.33,276.20" fill="none" stroke="#9263b8" stroke-width="1.0"/>
<path d="M280.80,166.30Q186.56,221.25 92.33,276.20" fill="none" stroke="#6a3596" stroke-width="1.3"/>
<path d="M277.90,202.70Q185.11,239.45 92.33,276.20" fill="none" stroke="#9263b8" stroke-width="1.0"/>
<path d="M273.10,220.10Q223.91,257.82 174.71,295.54" fill="none" stroke="#55b9e8" stroke-width="1.0"/>
<path d="M264.30,238.20Q219.51,266.87 174.71,295.54" fill="none" stroke="#55b9e8" stroke-width="1.0"/>
<path d="M240.10,266.50Q166.21,271.35 92.33,276.20" fill="none" stroke="#9263b8" stroke-width="1.0"/>
<path d="M98.10,281.00Q136.41,288.27 174.71,295.54" fill="none" stroke="#55b9e8" stroke-width="1.0"/>
<path d="M60.70,249.40Q117.71,272.47 174.71,295.54" fill="none" stroke="#55b9e8" stroke-width="1.0"/>
<path d="M51.00,230.50Q112.86,263.02 174.71,295.54" fill="none" stroke="#55b9e8" stroke-width="1.0"/>
<path d="M51.00,230.50Q71.66,253.35 92.33,276.20" fill="none" stroke="#9263b8" stroke-width="1.0"/>
<path d="M41.90,208.30Q67.11,242.25 92.33,276.20" fill="none" stroke="#9263b8" stroke-width="1.0"/>
<path d="M38.00,187.10Q65.16,231.65 92.33,276.20" fill="none" stroke="#9263b8" stroke-width="1.0"/>
<path d="M37.50,180.50Q106.11,238.02 174.71,295.54" fill="none" stroke="#55b9e8" stroke-width="1.0"/>
<path d="M37.50,180.50Q64.91,228.35 92.33,276.20" fill="none" stroke="#9263b8" stroke-width="1.0"/>
<path d="M38.70,161.10Q106.71,228.32 174.71,295.54" fill="none" stroke="#55b9e8" stroke-width="1.0"/>
<path d="M39.70,153.10Q107.21,224.32 174.71,295.54" fill="none" stroke="#55b9e8" stroke-width="1.0"/>
<path d="M51.60,118.10Q71.96,197.15 92.33,276.20" fill="none" stroke="#9263b8" stroke-width="1.0"/>
<path d="M66.00,99.50Q120.36,197.52 174.71,295.54" fill="none" stroke="#55b9e8" stroke-width="1.0"/>
<path d="M93.70,71.30Q134.21,183.42 174.71,295.54" fill="none" stroke="#55b9e8" stroke-width="1.0"/>
<path d="M119.20,60.00Q105.76,168.10 92.33,276.20" fill="none" stroke="#9263b8" stroke-width="1.0"/>
<path d="M91.6,277.3C125,276 152,280 154.6,296.9" fill="none" stroke="#9263b8" stroke-width="1.0"/>
<path d="M91.6,277.3C140,271 185,274 191.9,293.2" fill="none" stroke="#9263b8" stroke-width="1.0"/>
<path d="M91.6,277.3C135,269 175,271 179.9,295.5" fill="none" stroke="#9263b8" stroke-width="1.0"/>
<circle cx="163.4" cy="52.5" r="2.4" fill="#e46e79" stroke="#d05a66" stroke-width="0.5"/>
<circle cx="188.4" cy="53.3" r="2.4" fill="#e46e79" stroke="#d05a66" stroke-width="0.5"/>
<circle cx="185.8" cy="55.5" r="2.4" fill="#e46e79" stroke="#d05a66" stroke-width="0.5"/>
<circle cx="192.0" cy="57.4" r="2.4" fill="#e46e79" stroke="#d05a66" stroke-width="0.5"/>
<circle cx="215.7" cy="67.1" r="2.4" fill="#e46e79" stroke="#d05a66" stroke-width="0.5"/>
<circle cx="227.7" cy="73.5" r="2.4" fill="#e46e79" stroke="#d05a66" stroke-width="0.5"/>
<circle cx="260.1" cy="104.8" r="2.4" fill="#e46e79" stroke="#d05a66" stroke-width="0.5"/>
<circle cx="262.9" cy="110.3" r="2.4" fill="#e46e79" stroke="#d05a66" stroke-width="0.5"/>
<circle cx="280.8" cy="166.3" r="2.4" fill="#e46e79" stroke="#d05a66" stroke-width="0.5"/>
<circle cx="280.5" cy="188.5" r="2.4" fill="#e46e79" stroke="#d05a66" stroke-width="0.5"/>
<circle cx="277.9" cy="202.7" r="2.4" fill="#e46e79" stroke="#d05a66" stroke-width="0.5"/>
<circle cx="273.1" cy="220.1" r="2.4" fill="#e46e79" stroke="#d05a66" stroke-width="0.5"/>
<circle cx="264.3" cy="238.2" r="2.4" fill="#e46e79" stroke="#d05a66" stroke-width="0.5"/>
<circle cx="266.0" cy="240.2" r="2.4" fill="#e46e79" stroke="#d05a66" stroke-width="0.5"/>
<circle cx="240.1" cy="266.5" r="2.4" fill="#e46e79" stroke="#d05a66" stroke-width="0.5"/>
<circle cx="221.6" cy="280.1" r="2.4" fill="#e46e79" stroke="#d05a66" stroke-width="0.5"/>
<circle cx="191.9" cy="293.2" r="2.4" fill="#e46e79" stroke="#d05a66" stroke-width="0.5"/>
<circle cx="193.2" cy="294.7" r="2.4" fill="#e46e79" stroke="#d05a66" stroke-width="0.5"/>
<circle cx="179.9" cy="295.5" r="2.4" fill="#e46e79" stroke="#d05a66" stroke-width="0.5"/>
<circle cx="154.6" cy="296.9" r="2.4" fill="#e46e79" stroke="#d05a66" stroke-width="0.5"/>
<circle cx="149.4" cy="296.3" r="2.4" fill="#e46e79" stroke="#d05a66" stroke-width="0.5"/>
<circle cx="143.7" cy="295.8" r="2.4" fill="#e46e79" stroke="#d05a66" stroke-width="0.5"/>
<circle cx="128.5" cy="292.5" r="2.4" fill="#e46e79" stroke="#d05a66" stroke-width="0.5"/>
<circle cx="119.6" cy="290.4" r="2.4" fill="#e46e79" stroke="#d05a66" stroke-width="0.5"/>
<circle cx="98.1" cy="281.0" r="2.4" fill="#e46e79" stroke="#d05a66" stroke-width="0.5"/>
<circle cx="97.1" cy="283.7" r="2.4" fill="#e46e79" stroke="#d05a66" stroke-width="0.5"/>
<circle cx="60.7" cy="249.4" r="2.4" fill="#e46e79" stroke="#d05a66" stroke-width="0.5"/>
<circle cx="51.0" cy="230.5" r="2.4" fill="#e46e79" stroke="#d05a66" stroke-width="0.5"/>
<circle cx="41.9" cy="208.3" r="2.4" fill="#e46e79" stroke="#d05a66" stroke-width="0.5"/>
<circle cx="38.0" cy="187.1" r="2.4" fill="#e46e79" stroke="#d05a66" stroke-width="0.5"/>
<circle cx="37.5" cy="180.5" r="2.4" fill="#e46e79" stroke="#d05a66" stroke-width="0.5"/>
<circle cx="38.7" cy="161.1" r="2.4" fill="#e46e79" stroke="#d05a66" stroke-width="0.5"/>
<circle cx="39.7" cy="153.1" r="2.4" fill="#e46e79" stroke="#d05a66" stroke-width="0.5"/>
<circle cx="44.5" cy="134.8" r="2.4" fill="#e46e79" stroke="#d05a66" stroke-width="0.5"/>
<circle cx="51.6" cy="118.1" r="2.4" fill="#e46e79" stroke="#d05a66" stroke-width="0.5"/>
<circle cx="53.0" cy="115.5" r="2.4" fill="#e46e79" stroke="#d05a66" stroke-width="0.5"/>
<circle cx="55.2" cy="111.6" r="2.4" fill="#e46e79" stroke="#d05a66" stroke-width="0.5"/>
<circle cx="66.0" cy="99.5" r="2.4" fill="#e46e79" stroke="#d05a66" stroke-width="0.5"/>
<circle cx="64.6" cy="97.7" r="2.4" fill="#e46e79" stroke="#d05a66" stroke-width="0.5"/>
<circle cx="68.7" cy="94.5" r="2.4" fill="#e46e79" stroke="#d05a66" stroke-width="0.5"/>
<circle cx="93.7" cy="71.3" r="2.4" fill="#e46e79" stroke="#d05a66" stroke-width="0.5"/>
<circle cx="119.2" cy="60.0" r="2.4" fill="#e46e79" stroke="#d05a66" stroke-width="0.5"/>
<circle cx="118.5" cy="58.0" r="2.4" fill="#e46e79" stroke="#d05a66" stroke-width="0.5"/>
<circle cx="131.8" cy="56.6" r="2.4" fill="#e46e79" stroke="#d05a66" stroke-width="0.5"/>
<circle cx="130.8" cy="55.1" r="2.4" fill="#e46e79" stroke="#d05a66" stroke-width="0.5"/>
<circle cx="91.6" cy="277.3" r="2.4" fill="#5b2a8c"/>
<circle cx="175.1" cy="298.5" r="2.2" fill="#6d7f9a" opacity="0.95"/>
<text x="185.50" y="35.00" transform="rotate(10.5 185.50 35.00)" class="cl">1</text>
<text x="244.20" y="59.20" transform="rotate(36.1 244.20 59.20)" class="cl">2</text>
<text x="281.40" y="98.40" transform="rotate(57.8 281.40 98.40)" class="cl">3</text>
<text x="300.70" y="143.70" transform="rotate(77.4 300.70 143.70)" class="cl">4</text>
<text x="305.70" y="196.60" transform="rotate(-81.7 305.70 196.60)" class="cl">5</text>
<text x="291.70" y="243.30" transform="rotate(-62.7 291.70 243.30)" class="cl">6</text>
<text x="261.10" y="283.20" transform="rotate(-43.3 261.10 283.20)" class="cl">7</text>
<text x="229.20" y="306.60" transform="rotate(-27.9 229.20 306.60)" class="cl">8</text>
<text x="191.70" y="323.00" transform="rotate(-12.3 191.70 323.00)" class="cl">9</text>
<text x="154.40" y="323.50" transform="rotate(2.0 154.40 323.50)" class="cl">10</text>
<text x="111.90" y="314.60" transform="rotate(18.9 111.90 314.60)" class="cl">11</text>
<text x="72.60" y="298.60" transform="rotate(35.2 72.60 298.60)" class="cl">12</text>
<text x="47.80" y="271.20" transform="rotate(49.3 47.80 271.20)" class="cl">13</text>
<text x="29.60" y="244.30" transform="rotate(62.0 29.60 244.30)" class="cl">14</text>
<text x="17.20" y="213.30" transform="rotate(75.0 17.20 213.30)" class="cl">15</text>
<text x="12.40" y="180.10" transform="rotate(88.1 12.40 180.10)" class="cl">16</text>
<text x="19.20" y="151.00" transform="rotate(-80.2 19.20 151.00)" class="cl">17</text>
<text x="26.00" y="124.40" transform="rotate(-69.2 26.00 124.40)" class="cl">18</text>
<text x="37.00" y="102.20" transform="rotate(-59.2 37.00 102.20)" class="cl">19</text>
<text x="50.90" y="83.60" transform="rotate(-49.9 50.90 83.60)" class="cl">20</text>
<text x="66.70" y="68.80" transform="rotate(-41.1 66.70 68.80)" class="cl">21</text>
<text x="82.70" y="57.30" transform="rotate(-33.1 82.70 57.30)" class="cl">22</text>
<text x="110.00" y="42.00" transform="rotate(-20.4 110.00 42.00)" class="cl">X</text>
<text x="142.00" y="33.30" transform="rotate(-7.0 142.00 33.30)" class="cl">Y</text>
<text x="79.20" y="289.80" transform="rotate(35.0 79.20 289.80)" class="gl">ACVRL1</text>
<text x="189.50" y="313.00" transform="rotate(-12.3 189.50 313.00)" class="gl">ENG</text>
<text x="148" y="23.8" font-size="7.7" fill="#111" stroke="#111" stroke-width="0.15" text-anchor="middle">Chromosome</text>
<text x="6.3" y="14.8" class="pl">A</text>
<text x="321.1" y="14.6" class="pl">B</text>
<text x="320.7" y="124.5" class="pl">C</text>
<text x="325.0" y="134.3" class="pl" style="font-size:9.4px;stroke:#000;stroke-width:0.3px">i</text>
<text x="323.7" y="240.9" class="pl" style="font-size:9px;stroke:#000;stroke-width:0.3px;letter-spacing:0.3px">ii</text>
<polygon points="366.73,74.61 372.96,82.85 379.19,82.65 385.42,77.50 391.65,82.44 397.88,81.20 404.11,82.85 410.34,81.41 416.57,76.47 422.80,79.35 429.03,81.20 435.26,75.85 441.49,82.44 447.72,75.02 453.95,78.32 460.18,24.35 466.41,76.88 472.64,77.08 478.87,71.11 485.10,65.55 491.33,84.29 497.56,79.97 503.79,77.08 510.02,84.29 510.02,84.50 503.79,83.68 497.56,83.68 491.33,84.50 485.10,82.44 478.87,82.44 472.64,84.50 466.41,83.26 460.18,83.47 453.95,83.68 447.72,84.09 441.49,84.29 435.26,83.88 429.03,84.09 422.80,82.85 416.57,83.26 410.34,84.09 404.11,84.29 397.88,84.09 391.65,84.29 385.42,84.09 379.19,84.29 372.96,84.29 366.73,83.88" fill="#f0b7c0" stroke="#e9a2ae" stroke-width="0.5"/>
<polyline points="366.73,77.08 372.96,84.09 379.19,84.09 385.42,77.91 391.65,84.09 397.88,83.88 404.11,83.47 410.34,82.03 416.57,77.08 422.80,80.17 429.03,83.47 435.26,77.08 441.49,83.26 447.72,74.61 453.95,80.17 460.18,72.96 466.41,80.17 472.64,84.29 478.87,77.70 485.10,78.11 491.33,84.50 497.56,80.59 503.79,81.82 510.02,84.50" fill="none" stroke="#cc1438" stroke-width="1.3"/>
<polyline points="366.73,81.41 372.96,83.06 379.19,82.85 385.42,82.85 391.65,82.65 397.88,81.41 404.11,83.47 410.34,83.26 416.57,78.11 422.80,79.97 429.03,81.82 435.26,82.44 441.49,83.26 447.72,83.26 453.95,80.59 460.18,80.17 466.41,79.76 472.64,82.44 478.87,74.41 485.10,75.23 491.33,84.50 497.56,80.38 503.79,79.35 510.02,84.50" fill="none" stroke="#1f5a96" stroke-width="1.3"/>
<circle cx="366.73" cy="77.08" r="1.1" fill="#c8102e"/>
<circle cx="372.96" cy="84.09" r="1.1" fill="#c8102e"/>
<circle cx="379.19" cy="84.09" r="1.1" fill="#c8102e"/>
<circle cx="385.42" cy="77.91" r="1.1" fill="#c8102e"/>
<circle cx="391.65" cy="84.09" r="1.1" fill="#c8102e"/>
<circle cx="397.88" cy="83.88" r="1.1" fill="#c8102e"/>
<circle cx="404.11" cy="83.47" r="1.1" fill="#c8102e"/>
<circle cx="410.34" cy="82.03" r="1.1" fill="#c8102e"/>
<circle cx="416.57" cy="77.08" r="1.1" fill="#c8102e"/>
<circle cx="422.80" cy="80.17" r="1.1" fill="#c8102e"/>
<circle cx="429.03" cy="83.47" r="1.1" fill="#c8102e"/>
<circle cx="435.26" cy="77.08" r="1.1" fill="#c8102e"/>
<circle cx="441.49" cy="83.26" r="1.1" fill="#c8102e"/>
<circle cx="447.72" cy="74.61" r="1.1" fill="#c8102e"/>
<circle cx="453.95" cy="80.17" r="1.1" fill="#c8102e"/>
<circle cx="460.18" cy="72.96" r="1.1" fill="#c8102e"/>
<circle cx="466.41" cy="80.17" r="1.1" fill="#c8102e"/>
<circle cx="472.64" cy="84.29" r="1.1" fill="#c8102e"/>
<circle cx="478.87" cy="77.70" r="1.1" fill="#c8102e"/>
<circle cx="485.10" cy="78.11" r="1.1" fill="#c8102e"/>
<circle cx="491.33" cy="84.50" r="1.1" fill="#c8102e"/>
<circle cx="497.56" cy="80.59" r="1.1" fill="#c8102e"/>
<circle cx="503.79" cy="81.82" r="1.1" fill="#c8102e"/>
<circle cx="510.02" cy="84.50" r="1.1" fill="#c8102e"/>
<circle cx="366.73" cy="81.41" r="1.1" fill="#1b4f8a"/>
<circle cx="372.96" cy="83.06" r="1.1" fill="#1b4f8a"/>
<circle cx="379.19" cy="82.85" r="1.1" fill="#1b4f8a"/>
<circle cx="385.42" cy="82.85" r="1.1" fill="#1b4f8a"/>
<circle cx="391.65" cy="82.65" r="1.1" fill="#1b4f8a"/>
<circle cx="397.88" cy="81.41" r="1.1" fill="#1b4f8a"/>
<circle cx="404.11" cy="83.47" r="1.1" fill="#1b4f8a"/>
<circle cx="410.34" cy="83.26" r="1.1" fill="#1b4f8a"/>
<circle cx="416.57" cy="78.11" r="1.1" fill="#1b4f8a"/>
<circle cx="422.80" cy="79.97" r="1.1" fill="#1b4f8a"/>
<circle cx="429.03" cy="81.82" r="1.1" fill="#1b4f8a"/>
<circle cx="435.26" cy="82.44" r="1.1" fill="#1b4f8a"/>
<circle cx="441.49" cy="83.26" r="1.1" fill="#1b4f8a"/>
<circle cx="447.72" cy="83.26" r="1.1" fill="#1b4f8a"/>
<circle cx="453.95" cy="80.59" r="1.1" fill="#1b4f8a"/>
<circle cx="460.18" cy="80.17" r="1.1" fill="#1b4f8a"/>
<circle cx="466.41" cy="79.76" r="1.1" fill="#1b4f8a"/>
<circle cx="472.64" cy="82.44" r="1.1" fill="#1b4f8a"/>
<circle cx="478.87" cy="74.41" r="1.1" fill="#1b4f8a"/>
<circle cx="485.10" cy="75.23" r="1.1" fill="#1b4f8a"/>
<circle cx="491.33" cy="84.50" r="1.1" fill="#1b4f8a"/>
<circle cx="497.56" cy="80.38" r="1.1" fill="#1b4f8a"/>
<circle cx="503.79" cy="79.35" r="1.1" fill="#1b4f8a"/>
<circle cx="510.02" cy="84.50" r="1.1" fill="#1b4f8a"/>
<path d="M360.5,18.1V84.5H514" fill="none" stroke="#000" stroke-width="1.1"/>
<path d="M357.7,84.50H360.5" stroke="#000" stroke-width="0.9"/>
<text x="354.3" y="87.05" class="tk" text-anchor="end">0</text>
<path d="M357.7,74.20H360.5" stroke="#000" stroke-width="0.9"/>
<text x="354.3" y="76.75" class="tk" text-anchor="end">5</text>
<path d="M357.7,63.90H360.5" stroke="#000" stroke-width="0.9"/>
<text x="354.3" y="66.45" class="tk" text-anchor="end">10</text>
<path d="M357.7,53.60H360.5" stroke="#000" stroke-width="0.9"/>
<text x="354.3" y="56.15" class="tk" text-anchor="end">15</text>
<path d="M357.7,43.30H360.5" stroke="#000" stroke-width="0.9"/>
<text x="354.3" y="45.85" class="tk" text-anchor="end">20</text>
<path d="M357.7,33.00H360.5" stroke="#000" stroke-width="0.9"/>
<text x="354.3" y="35.55" class="tk" text-anchor="end">25</text>
<path d="M357.7,22.70H360.5" stroke="#000" stroke-width="0.9"/>
<text x="354.3" y="25.25" class="tk" text-anchor="end">30</text>
<path d="M360.50,84.5V87.2" stroke="#000" stroke-width="0.8"/>
<text transform="translate(360.50,95.8) scale(0.66,1)" class="tkc" text-anchor="middle">0</text>
<path d="M366.73,84.5V87.2" stroke="#000" stroke-width="0.8"/>
<text transform="translate(366.73,95.8) scale(0.66,1)" class="tkc" text-anchor="middle">1</text>
<path d="M372.96,84.5V87.2" stroke="#000" stroke-width="0.8"/>
<text transform="translate(372.96,95.8) scale(0.66,1)" class="tkc" text-anchor="middle">2</text>
<path d="M379.19,84.5V87.2" stroke="#000" stroke-width="0.8"/>
<text transform="translate(379.19,95.8) scale(0.66,1)" class="tkc" text-anchor="middle">3</text>
<path d="M385.42,84.5V87.2" stroke="#000" stroke-width="0.8"/>
<text transform="translate(385.42,95.8) scale(0.66,1)" class="tkc" text-anchor="middle">4</text>
<path d="M391.65,84.5V87.2" stroke="#000" stroke-width="0.8"/>
<text transform="translate(391.65,95.8) scale(0.66,1)" class="tkc" text-anchor="middle">5</text>
<path d="M397.88,84.5V87.2" stroke="#000" stroke-width="0.8"/>
<text transform="translate(397.88,95.8) scale(0.66,1)" class="tkc" text-anchor="middle">6</text>
<path d="M404.11,84.5V87.2" stroke="#000" stroke-width="0.8"/>
<text transform="translate(404.11,95.8) scale(0.66,1)" class="tkc" text-anchor="middle">7</text>
<path d="M410.34,84.5V87.2" stroke="#000" stroke-width="0.8"/>
<text transform="translate(410.34,95.8) scale(0.66,1)" class="tkc" text-anchor="middle">8</text>
<path d="M416.57,84.5V87.2" stroke="#000" stroke-width="0.8"/>
<text transform="translate(416.57,95.8) scale(0.66,1)" class="tkc" text-anchor="middle">9</text>
<path d="M422.80,84.5V87.2" stroke="#000" stroke-width="0.8"/>
<text transform="translate(422.80,95.8) scale(0.66,1)" class="tkc" text-anchor="middle">10</text>
<path d="M429.03,84.5V87.2" stroke="#000" stroke-width="0.8"/>
<text transform="translate(429.03,95.8) scale(0.66,1)" class="tkc" text-anchor="middle">11</text>
<path d="M435.26,84.5V87.2" stroke="#000" stroke-width="0.8"/>
<text transform="translate(435.26,95.8) scale(0.66,1)" class="tkc" text-anchor="middle">12</text>
<path d="M441.49,84.5V87.2" stroke="#000" stroke-width="0.8"/>
<text transform="translate(441.49,95.8) scale(0.66,1)" class="tkc" text-anchor="middle">13</text>
<path d="M447.72,84.5V87.2" stroke="#000" stroke-width="0.8"/>
<text transform="translate(447.72,95.8) scale(0.66,1)" class="tkc" text-anchor="middle">14</text>
<path d="M453.95,84.5V87.2" stroke="#000" stroke-width="0.8"/>
<text transform="translate(453.95,95.8) scale(0.66,1)" class="tkc" text-anchor="middle">15</text>
<path d="M460.18,84.5V87.2" stroke="#000" stroke-width="0.8"/>
<text transform="translate(460.18,95.8) scale(0.66,1)" class="tkc" text-anchor="middle">16</text>
<path d="M466.41,84.5V87.2" stroke="#000" stroke-width="0.8"/>
<text transform="translate(466.41,95.8) scale(0.66,1)" class="tkc" text-anchor="middle">17</text>
<path d="M472.64,84.5V87.2" stroke="#000" stroke-width="0.8"/>
<text transform="translate(472.64,95.8) scale(0.66,1)" class="tkc" text-anchor="middle">18</text>
<path d="M478.87,84.5V87.2" stroke="#000" stroke-width="0.8"/>
<text transform="translate(478.87,95.8) scale(0.66,1)" class="tkc" text-anchor="middle">19</text>
<path d="M485.10,84.5V87.2" stroke="#000" stroke-width="0.8"/>
<text transform="translate(485.10,95.8) scale(0.66,1)" class="tkc" text-anchor="middle">20</text>
<path d="M491.33,84.5V87.2" stroke="#000" stroke-width="0.8"/>
<text transform="translate(491.33,95.8) scale(0.66,1)" class="tkc" text-anchor="middle">21</text>
<path d="M497.56,84.5V87.2" stroke="#000" stroke-width="0.8"/>
<text transform="translate(497.56,95.8) scale(0.66,1)" class="tkc" text-anchor="middle">22</text>
<path d="M503.79,84.5V87.2" stroke="#000" stroke-width="0.8"/>
<text transform="translate(503.79,95.8) scale(0.66,1)" class="tkc" text-anchor="middle">23</text>
<path d="M510.02,84.5V87.2" stroke="#000" stroke-width="0.8"/>
<text transform="translate(510.02,95.8) scale(0.66,1)" class="tkc" text-anchor="middle">24</text>
<text x="442.25" y="106.4" class="axc" text-anchor="middle" textLength="35.9" lengthAdjust="spacingAndGlyphs">Chromosome</text>
<text transform="translate(339.4,50.35) rotate(-90)" class="axc" text-anchor="middle" textLength="43.7" lengthAdjust="spacingAndGlyphs">Number per Mb</text>
<path d="M360.5,129.2V195.5H514" fill="none" stroke="#000" stroke-width="1.1"/>
<path d="M357.8,195.50H360.5" stroke="#000" stroke-width="0.9"/>
<text x="354.4" y="198.05" class="tk" text-anchor="end">0</text>
<path d="M357.8,183.15H360.5" stroke="#000" stroke-width="0.9"/>
<text x="354.4" y="185.70" class="tk" text-anchor="end">5</text>
<path d="M357.8,170.80H360.5" stroke="#000" stroke-width="0.9"/>
<text x="354.4" y="173.35" class="tk" text-anchor="end">10</text>
<path d="M357.8,158.45H360.5" stroke="#000" stroke-width="0.9"/>
<text x="354.4" y="161.00" class="tk" text-anchor="end">15</text>
<path d="M357.8,146.10H360.5" stroke="#000" stroke-width="0.9"/>
<text x="354.4" y="148.65" class="tk" text-anchor="end">20</text>
<path d="M357.8,133.75H360.5" stroke="#000" stroke-width="0.9"/>
<text x="354.4" y="136.30" class="tk" text-anchor="end">25</text>
<path d="M388.6,186.3V194.2" stroke="#2a2a2a" stroke-width="1.05"/>
<path d="M381.85,186.3H395.35M381.85,194.2H395.35" stroke="#2a2a2a" stroke-width="1.05"/>
<rect x="374.6" y="188.1" width="28" height="4.099999999999994" fill="#2762a3"/>
<path d="M374.6,189.8H402.6" stroke="#0c2a52" stroke-width="1.6"/>
<path d="M444.3,143.1V194.0" stroke="#2a2a2a" stroke-width="1.05"/>
<path d="M437.55,143.1H451.05M437.55,194.0H451.05" stroke="#2a2a2a" stroke-width="1.05"/>
<rect x="430.55" y="178.0" width="27.5" height="10.800000000000011" fill="#c8102e"/>
<path d="M430.55,186.1H458.05" stroke="#5a0c18" stroke-width="1.4"/>
<path d="M485.8,174.7V195.0" stroke="#2a2a2a" stroke-width="1.05"/>
<path d="M479.15000000000003,174.7H492.45M479.15000000000003,195.0H492.45" stroke="#2a2a2a" stroke-width="1.05"/>
<rect x="471.8" y="188.0" width="28" height="3.5999999999999943" fill="#c8102e"/>
<path d="M471.8,190.4H499.8" stroke="#5a0c18" stroke-width="1.4"/>
<path d="M388.6,195.2V198.3" stroke="#000" stroke-width="0.8"/>
<path d="M444.3,195.2V198.3" stroke="#000" stroke-width="0.8"/>
<path d="M485.8,195.2V198.3" stroke="#000" stroke-width="0.8"/>
<path d="M444,133.5H485.1" stroke="#222" stroke-width="1"/>
<text x="465.2" y="129.1" class="pv" text-anchor="middle">p=.0032</text>
<text x="388.7" y="207.0" class="gn gn1" text-anchor="middle">HHT</text>
<text x="388.7" y="216.2" class="gn gn2" text-anchor="middle">genes</text>
<text x="444.5" y="207.0" class="gn gn1" text-anchor="middle">Variant</text>
<text x="444.5" y="216.2" class="gn gn2" text-anchor="middle">genes</text>
<text x="485.8" y="207.0" class="gn gn1" text-anchor="middle">No-variant</text>
<text x="485.8" y="216.2" class="gn gn2" text-anchor="middle">genes</text>
<text transform="translate(329.1,161.75) rotate(-90)" class="axc" text-anchor="middle" textLength="38.5" lengthAdjust="spacingAndGlyphs">Gene damage</text>
<text transform="translate(339.3,161.75) rotate(-90)" class="axc2" text-anchor="middle" textLength="51" lengthAdjust="spacingAndGlyphs">(GDI phred score)</text>
<path d="M360.5,243.9V309.6H514" fill="none" stroke="#111" stroke-width="1.2"/>
<path d="M357.2,309.90H360.3" stroke="#000" stroke-width="0.9"/>
<text x="354.6" y="312.40" class="tk" text-anchor="end">−4</text>
<path d="M357.2,297.50H360.3" stroke="#000" stroke-width="0.9"/>
<text x="354.6" y="300.00" class="tk" text-anchor="end">−2</text>
<path d="M357.2,285.10H360.3" stroke="#000" stroke-width="0.9"/>
<text x="354.6" y="287.60" class="tk" text-anchor="end">0</text>
<path d="M357.2,272.70H360.3" stroke="#000" stroke-width="0.9"/>
<text x="354.6" y="275.20" class="tk" text-anchor="end">2</text>
<path d="M357.2,260.30H360.3" stroke="#000" stroke-width="0.9"/>
<text x="354.6" y="262.80" class="tk" text-anchor="end">4</text>
<path d="M357.2,247.90H360.3" stroke="#000" stroke-width="0.9"/>
<text x="354.6" y="250.40" class="tk" text-anchor="end">6</text>
<path d="M388.6,287.2V294.4" stroke="#2a2a2a" stroke-width="1.05"/>
<path d="M381.85,287.2H395.35M381.85,294.4H395.35" stroke="#2a2a2a" stroke-width="1.05"/>
<rect x="375.0" y="287.8" width="27.2" height="4.699999999999989" fill="#1f5c9e"/>
<path d="M375.0,289.5H402.20000000000005" stroke="#17477e" stroke-width="1.0"/>
<path d="M444.0,254.0V305.1" stroke="#2a2a2a" stroke-width="1.05"/>
<path d="M438.25,254.0H449.75M438.25,305.1H449.75" stroke="#2a2a2a" stroke-width="1.05"/>
<rect x="430.1" y="283.7" width="27.8" height="5.400000000000034" fill="#c8102e"/>
<path d="M430.1,286.4H457.9" stroke="#6a0e1e" stroke-width="1.4"/>
<path d="M486.0,274.7V292.9" stroke="#2a2a2a" stroke-width="1.05"/>
<path d="M479.6,274.7H492.4M479.6,292.9H492.4" stroke="#2a2a2a" stroke-width="1.05"/>
<rect x="471.6" y="285.0" width="28.8" height="3.5" fill="#c8102e"/>
<path d="M471.6,286.8H500.4" stroke="#6a0e1e" stroke-width="1.4"/>
<path d="M361,285.1H514" stroke="#333" stroke-width="0.9" stroke-dasharray="1.1,1.2"/>
<path d="M388.5,309.7V312.7" stroke="#000" stroke-width="0.8"/>
<path d="M444.0,309.7V312.7" stroke="#000" stroke-width="0.8"/>
<path d="M486.0,309.7V312.7" stroke="#000" stroke-width="0.8"/>
<path d="M444.5,244.5H486" stroke="#222" stroke-width="1"/>
<text x="464.9" y="240.9" class="pv" text-anchor="middle">p=.93</text>
<text x="388.7" y="321.6" class="gn gn1" text-anchor="middle">HHT</text>
<text x="388.7" y="331.0" class="gn gn2" text-anchor="middle">genes</text>
<text x="444.5" y="321.6" class="gn gn1" text-anchor="middle">Variant</text>
<text x="444.5" y="331.0" class="gn gn2" text-anchor="middle">genes</text>
<text x="486" y="321.6" class="gn gn1" text-anchor="middle">No-variant</text>
<text x="486" y="331.0" class="gn gn2" text-anchor="middle">genes</text>
<text transform="translate(328.7,276.5) rotate(-90)" class="axc" text-anchor="middle" textLength="49.3" lengthAdjust="spacingAndGlyphs">Genic intolerance</text>
<text transform="translate(338.9,275.4) rotate(-90)" class="axc2" text-anchor="middle" textLength="36.2" lengthAdjust="spacingAndGlyphs">(RVIS score)</text>
<rect x="0.5" y="0.5" width="519" height="337" fill="none" stroke="#000" stroke-width="1.2"/>
</svg></div>
</body></html>
